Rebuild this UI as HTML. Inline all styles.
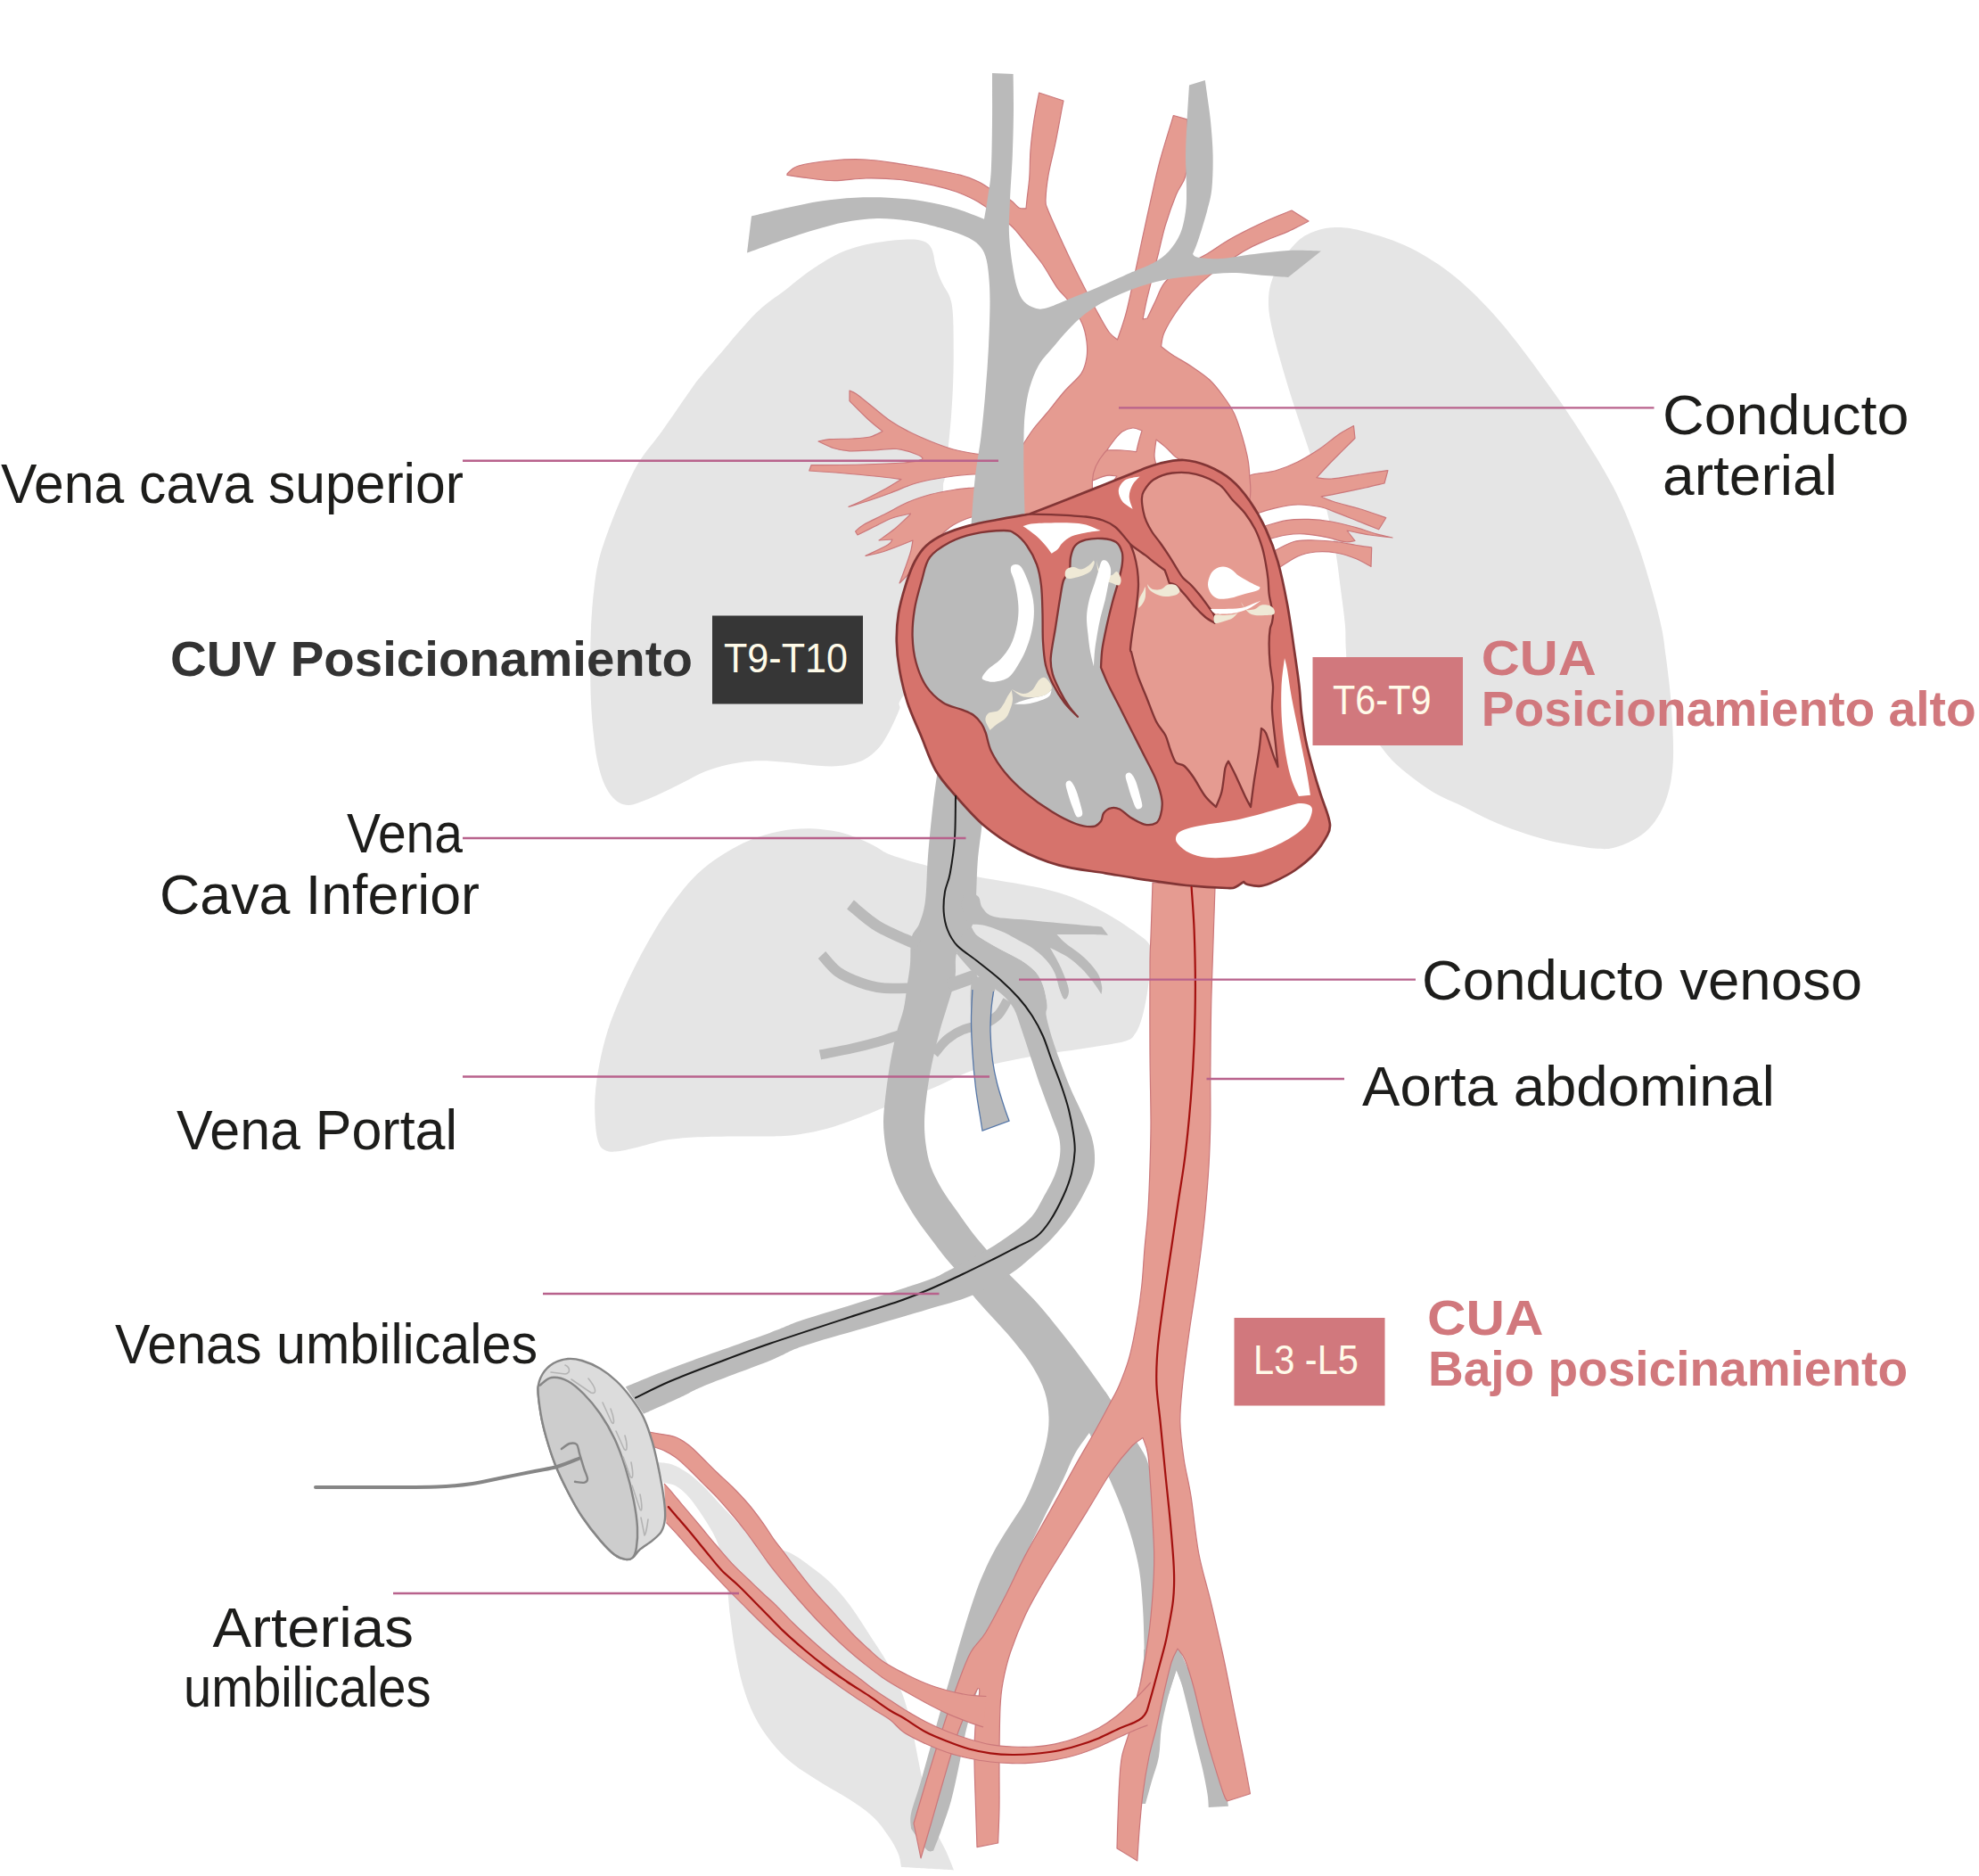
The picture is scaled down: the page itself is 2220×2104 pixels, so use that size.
<!DOCTYPE html>
<html>
<head>
<meta charset="utf-8">
<title>Circulacion fetal - cateteres umbilicales</title>
<style>
html,body{margin:0;padding:0;background:#ffffff;}
body{width:2220px;height:2104px;overflow:hidden;font-family:"Liberation Sans",sans-serif;}
svg{display:block;position:absolute;left:0;top:0;}
text{font-family:"Liberation Sans",sans-serif;}
.lbl{font-size:63px;fill:#1d1d1b;}
.bold{font-size:56px;font-weight:bold;}
.boxt{font-size:47px;fill:#fffbe9;}
.lead{stroke:#b8628c;stroke-width:2.4;fill:none;}
</style>
</head>
<body>
<svg xmlns="http://www.w3.org/2000/svg" width="2220" height="2104" viewBox="0 0 2220 2104">
<g id="organs" fill="#e5e5e5">
<!-- left lung --><path d="M1022.8,268.6C1026.6,268.7 1029.1,268.9 1032,269.6C1034.9,270.3 1037.9,271.3 1040,272.7C1042.1,274.1 1043.4,275.7 1044.6,278C1045.8,280.3 1046.7,283.5 1047.4,286.4C1048.1,289.3 1048.1,291.9 1049,295.5C1049.9,299.1 1051.2,303.9 1052.8,308C1054.3,312.1 1056.5,316.5 1058.3,320C1060.1,323.5 1062.3,326.3 1063.7,329C1065.1,331.7 1065.7,333.6 1066.5,336.4C1067.3,339.1 1067.8,340.6 1068.3,345.5C1068.8,350.4 1069.3,354.1 1069.5,366C1069.7,377.9 1069.9,400.2 1069.5,417C1069.1,433.8 1068.5,448.1 1067,467C1065.5,485.9 1062.2,517 1060.7,530.5C1059.2,544 1058.3,536.4 1058,548C1057.7,559.6 1055.3,574.7 1059,600C1062.7,625.3 1087.3,670.3 1080,700C1072.7,729.7 1026.8,762.1 1015,778C1003.2,793.9 1011.7,788.9 1009,795.6C1006.3,802.3 1002.6,810.9 998.8,818C995,825.1 991.1,832.8 986,838.5C980.9,844.2 975.6,849 968.4,852.4C961.2,855.8 951.4,857.7 943,858.8C934.6,859.9 926.4,859.3 918,858.8C909.6,858.3 901.1,856.9 892.6,856C884.1,855.1 875.4,854.1 867,853.7C858.6,853.3 850.4,853.1 842,853.7C833.6,854.3 825.3,855.6 816.9,857.5C808.5,859.4 800.1,861.6 791.6,865C783.1,868.4 774.4,873.5 766,877.7C757.6,881.9 749.4,886.2 741,890C732.6,893.8 721.8,898.4 715.8,900.5C709.8,902.6 708.3,902.9 704.8,902.9C701.3,902.9 697.9,902.1 694.6,900.3C691.3,898.4 688.2,895.8 685.2,891.8C682.2,887.8 679.2,883 676.7,876.5C674.2,870 671.8,861.7 669.9,852.6C668,843.5 666.8,832.6 665.6,821.8C664.5,811 663.6,800.5 663,787.7C662.4,774.9 662.2,759.2 662.2,745C662.2,730.8 662.3,716.6 663,702.4C663.7,688.2 664.9,672.5 666.5,659.7C668.1,646.9 669.4,637.2 672.4,625.6C675.4,614 679.8,602.2 684.3,590C688.8,577.8 694.3,564.4 699.7,552.4C705.1,540.4 709.7,529.4 716.8,518C723.9,506.6 732.3,497.9 742.3,484C752.2,470.1 768.9,445.5 776.5,434.8C784.1,424.1 782.1,427.1 788,420C793.9,412.9 804.5,400.8 812,392C819.5,383.2 826.2,374.8 833.3,367C840.4,359.2 846.8,351.8 854.6,345C862.4,338.2 872.4,331.8 880,326C887.6,320.2 893.6,314.8 900,310C906.4,305.2 912.1,301.2 918.2,297.3C924.3,293.4 930.3,289.4 936.4,286.4C942.5,283.3 948.5,281.1 954.6,279C960.7,276.9 966.7,275.4 972.8,274C978.9,272.6 985,271.7 991,270.9C997,270.1 1003.7,269.4 1009,269C1014.3,268.6 1019,268.5 1022.8,268.6Z"/>
<!-- right lung --><path d="M1501,255C1491.7,254.8 1483.5,256.4 1476,259C1468.5,261.6 1462.5,264.3 1455.8,270.4C1449.1,276.5 1440.6,287.7 1435.6,295.7C1430.5,303.7 1427.6,311.2 1425.5,318.4C1423.4,325.5 1423,331.4 1423,338.6C1423,345.8 1423.4,350.9 1425.5,361.4C1427.6,371.9 1431.4,386.7 1435.6,401.8C1439.8,416.9 1445.6,436 1450.7,452C1455.8,468 1461,482.6 1466,497.8C1471,513 1476.8,528.7 1481,543C1485.2,557.3 1488,570.6 1491,583.7C1494,596.8 1496.6,609 1498.7,621.6C1500.8,634.2 1502.1,646.3 1503.8,659.5C1505.5,672.7 1507.9,689.1 1508.9,701C1509.9,712.9 1509,716.2 1510,731C1511,745.8 1508.7,772.5 1515,790C1521.3,807.5 1538.9,824.3 1548,836C1557.1,847.7 1559.7,851.3 1569.5,860C1579.3,868.7 1595.2,880.7 1607,888C1618.8,895.3 1629.2,898.6 1640,903.9C1650.8,909.2 1661.3,915.1 1672,919.9C1682.7,924.7 1693.3,928.9 1704,932.6C1714.7,936.3 1725.2,939.5 1735.9,942.2C1746.6,944.9 1758.6,947 1767.9,948.6C1777.2,950.2 1785,951.4 1791.9,951.8C1798.8,952.2 1802.8,952.6 1809.5,951C1816.2,949.4 1825.2,945.8 1831.9,942.2C1838.6,938.6 1844.4,934.5 1849.5,929.4C1854.6,924.3 1858.8,918 1862.3,911.9C1865.8,905.8 1868.2,899.4 1870.3,892.7C1872.4,886 1873.9,879.4 1875,871.9C1876.1,864.4 1876.8,857.3 1877,848C1877.2,838.7 1876.9,828 1876.3,816C1875.7,804 1874.8,789.3 1873.5,776C1872.2,762.7 1870.3,748 1868.7,736C1867.1,724 1866.6,716.8 1863.9,704C1861.2,691.2 1857.3,676.2 1852.5,659.5C1847.7,642.8 1842,623 1834.8,604C1827.6,585 1820,566 1809.5,545.8C1799,525.6 1784.2,502.4 1771.6,482.6C1759,462.8 1748.5,447.3 1733.7,427C1718.9,406.7 1699.8,380.4 1683,361C1666.2,341.6 1649.4,324.6 1632.6,310.8C1615.8,297 1598.8,286.5 1582,278C1565.2,269.5 1545.1,263.8 1531.6,260C1518.1,256.2 1510.3,255.2 1501,255Z"/>
<!-- liver --><path d="M905.8,929.2C895.1,929.2 884.4,930.3 873.8,932.4C863.1,934.5 852.5,937.6 841.9,942C831.2,946.4 819.8,952.6 809.9,959C800,965.4 791.1,971.8 782.2,980.3C773.3,988.8 764.4,999.9 756.6,1010.2C748.8,1020.5 742.4,1030.3 735.3,1042C728.2,1053.7 720.4,1068 714,1080.5C707.6,1093 702.2,1104.4 696.9,1116.8C691.6,1129.2 686.1,1142.2 682,1155C677.9,1167.8 674.8,1181 672.4,1193.5C670,1206 668.2,1218.4 667.5,1229.8C666.8,1241.2 667.4,1253.2 668,1261.7C668.6,1270.2 669.7,1276.3 671.3,1280.9C672.9,1285.5 674.5,1287.6 677.7,1289.4C680.9,1291.2 684.5,1292 690.5,1291.6C696.5,1291.2 704.8,1289.1 714,1287C723.2,1284.9 735.2,1280.7 745.9,1278.8C756.5,1276.9 765.5,1276.3 777.9,1275.6C790.3,1274.9 806.3,1274.7 820.5,1274.5C834.7,1274.3 850.6,1274.8 863,1274.5C875.4,1274.2 884.3,1273.8 895,1272.4C905.7,1271 916.3,1268.8 927,1266C937.7,1263.2 948.3,1259.2 959,1255.3C969.7,1251.4 976.1,1248.5 991,1242.5C1005.9,1236.5 1034.9,1225.2 1048.5,1219.5C1062.1,1213.8 1064.7,1211.5 1072.8,1208C1080.9,1204.5 1087.6,1201.4 1097,1198.4C1106.4,1195.5 1118.6,1192.7 1129.4,1190.3C1140.2,1187.9 1150.9,1185.8 1161.7,1183.9C1172.5,1182 1183.2,1180.6 1194,1179C1204.8,1177.4 1215.1,1176.1 1226.4,1174.2C1237.7,1172.3 1254.2,1170.1 1262,1167.7C1269.8,1165.3 1270.1,1164.2 1273.3,1159.6C1276.5,1155 1279,1148.8 1281.4,1140.2C1283.8,1131.6 1286.2,1118.7 1287.8,1107.9C1289.4,1097.1 1290.7,1083.6 1291,1075.5C1291.3,1067.4 1292.2,1064.2 1289.5,1059.4C1286.8,1054.6 1282.7,1052.1 1274.9,1046.4C1267.1,1040.7 1254.8,1032.1 1242.6,1025.4C1230.4,1018.7 1215.5,1011.1 1202,1006C1188.5,1000.9 1179.2,998.5 1161.7,994.7C1144.2,990.9 1116.8,987.2 1097,983.4C1077.2,979.6 1059.2,975.8 1043,971.7C1026.8,967.6 1010.4,962.9 1000,959C989.6,955.1 987.2,951.8 980.4,948.4C973.6,945 966.1,941.5 959,938.8C951.9,936.1 946.7,934 937.8,932.4C928.9,930.8 916.5,929.2 905.8,929.2Z"/>
<!-- bladder --><path d="M738,1640C740.7,1640.4 748.2,1640.4 754,1642.5C759.8,1644.6 766.9,1648.7 772.7,1652.7C778.5,1656.8 783.5,1661.6 788.9,1666.8C794.3,1672 799.5,1678.1 805,1684C810.5,1689.9 816.2,1696 822,1702C827.8,1708 834,1715 840,1720C846,1725 852.7,1729.2 858,1732C863.3,1734.8 866.8,1735.2 872,1737C877.2,1738.8 882.5,1739.5 889,1743C895.5,1746.5 903.6,1752.6 910.8,1758C918,1763.4 924.8,1768.2 932,1775.4C939.2,1782.6 946.7,1791.3 953.9,1801C961.1,1810.7 968.6,1823 975.4,1833.5C982.2,1844 989,1853.6 994.8,1863.7C1000.5,1873.8 1005.9,1884.6 1009.9,1893.9C1013.9,1903.2 1016,1910.7 1018.5,1919.7C1021,1928.7 1022.5,1935.9 1025,1947.7C1027.5,1959.5 1030.8,1977.9 1033.6,1990.8C1036.4,2003.7 1039.1,2014.3 1042,2025C1044.9,2035.7 1047.5,2046.3 1050.8,2055C1054.1,2063.7 1058.4,2069.9 1061.6,2077C1064.8,2084.1 1068.6,2094 1070,2097.4C1063.2,2097 1038.8,2095.6 1029,2095C1019.2,2094.4 1014,2094.2 1011,2094C1010.5,2091.5 1010,2084.7 1007.7,2079C1005.4,2073.3 1001.7,2066.5 997,2059.7C992.3,2052.9 986.9,2044.8 979.7,2038C972.5,2031.2 963.6,2025.2 953.9,2018.8C944.2,2012.4 932.3,2006.2 921.5,1999.4C910.7,1992.6 898.3,1985.4 889,1977.8C879.7,1970.2 872.7,1963 865.5,1954C858.3,1945 851.4,1934.8 846,1924C840.6,1913.2 836.6,1901.7 833,1889.5C829.4,1877.3 826.9,1863.7 824.6,1850.8C822.3,1837.9 820.4,1822.8 819,1812C817.6,1801.2 817.6,1795.7 816.4,1786C815.2,1776.3 813.9,1763.8 811.7,1753.8C809.5,1743.8 807,1734.8 803,1725.8C799,1716.8 793,1707.8 788,1700C783,1692.2 777.6,1684.5 772.7,1679C767.8,1673.5 763.3,1669.5 758.5,1666.8C753.7,1664.1 746.4,1663.5 744,1662.8L738,1640Z"/>
</g>
<g fill="#e59b91" stroke="#cb787b" stroke-width="1.2" stroke-linejoin="round">
<!-- left pulmonary fan --><path d="M953,438C954.3,438.7 956.6,439 960.9,442C965.1,445 972.2,451 978.5,456C984.8,461 992,467.4 998.8,472C1005.5,476.6 1011.5,480 1019,483.8C1026.5,487.6 1035.6,491.6 1044,495C1052.4,498.4 1061,501.7 1069.5,504C1078,506.3 1086.4,507.7 1094.8,509C1103.2,510.3 1115.8,511.5 1120,512L1120,532C1115.3,532 1100.4,531.7 1092,532C1083.6,532.3 1077.5,533 1069.5,534C1061.5,535 1051.6,536.5 1044,538C1036.4,539.5 1031.5,540.5 1024,543C1016.5,545.5 1006.8,550 998.8,553C990.8,556 983.8,558.4 976,561C968.2,563.6 956,567.2 952,568.4C954.8,567.2 961.5,564.4 968.5,561C975.5,557.6 986.6,551.9 993.7,548C1000.8,544.1 1008.1,539.2 1011,537.5C1006,536.9 992.3,535.2 981,534C969.7,532.8 955.2,531.5 943,530.5C930.8,529.5 913.7,528.4 907.8,528L910,521.7C919.8,521.6 951.2,521.5 968.5,521C985.8,520.5 1003.9,519.7 1014,519C1024.1,518.3 1026.5,517.3 1029,517C1030,516.5 1035.4,515.3 1035,514C1034.6,512.7 1031.4,510.8 1026.6,509C1021.8,507.2 1013.6,504.2 1006,503.5C998.4,502.8 989.8,504.4 981,504.8C972.2,505.2 960.6,506.1 953,505.8C945.4,505.5 941.4,504.6 935.6,502.8C929.8,501 920.9,496.3 918,495C920.1,494.6 924.2,493.1 930.5,492.6C936.8,492.1 948.2,492.4 955.8,492C963.4,491.6 970.3,491.4 976,490C981.7,488.6 987.7,484.8 990,483.8C987.2,481.5 979.7,475.7 973.5,470C967.3,464.3 956.4,453.1 953,449.7L953,438Z"/>
<!-- left pulmonary fan 2 --><path d="M1120,545C1115.3,545.3 1100.4,546.2 1092,547C1083.6,547.8 1077.5,548.2 1069.5,549.5C1061.5,550.8 1052.4,552.2 1044,554.5C1035.6,556.8 1027.4,559.4 1019,563C1010.6,566.6 1002.1,571.7 993.7,576C985.3,580.3 974.2,585.4 968.5,588.7C962.8,592 961.1,594.8 959.6,596L962,600C965.2,598.4 974.5,593.7 981,590.5C987.5,587.3 994.2,583.4 1001,581C1007.8,578.6 1018.1,576.8 1021.5,576C1021.1,576.5 1022,576.2 1019,579C1016,581.8 1009.3,588.5 1003.8,593C998.3,597.5 989,603.8 986,606L1001,605C1000.2,606 1001,607.9 996,611C991,614.1 975.2,621.3 971,623.4C974.8,622.5 984.9,620.6 993.7,617.7C1002.5,614.8 1019,608 1024,606C1023.6,608.2 1022.8,614.3 1021.5,619C1020.2,623.7 1018.2,629 1016.5,634C1014.8,639 1012.2,645.7 1011,649C1009.8,652.3 1009.3,653.2 1009,654C1010.7,652.3 1015.7,648.2 1019,644C1022.3,639.8 1025.5,633.8 1029,629C1032.5,624.2 1035.3,620 1040,615C1044.7,610 1052.1,603.2 1057,598.8C1061.9,594.4 1064,591.8 1069.5,588.7C1075,585.6 1081.3,582.3 1089.7,580C1098.1,577.7 1115,575.8 1120,575L1120,545Z"/>
<!-- right pulmonary fan --><path d="M1395,545C1396.3,543 1396.8,535.8 1402.7,533C1408.6,530.2 1421.7,530.5 1430.5,528C1439.3,525.5 1447.4,522.2 1455.8,518C1464.2,513.8 1473.5,507.9 1481,502.9C1488.5,497.8 1494.8,491.9 1501,487.7C1507.2,483.5 1515.6,479.3 1518.5,477.6L1520,491.5C1517.7,493.8 1510.8,500.6 1506,505.4C1501.2,510.2 1495.8,515.5 1491,520.5C1486.2,525.5 1479.3,533.2 1477,535.7C1479.8,535.9 1485.5,537.6 1493.7,537C1502,536.4 1516,533.6 1526.5,532C1537,530.4 1551.8,528.3 1556.9,527.6L1553,542C1549.4,542.8 1540.3,545.1 1531.6,547C1522.9,548.9 1509.3,551.7 1501,553.4C1492.7,555.1 1485.2,556.4 1482,557C1484.8,558.1 1491.3,561.2 1498.7,563.5C1506.1,565.8 1517.2,568.1 1526.5,571C1535.8,573.9 1550.1,579.1 1554.8,580.7L1546.7,593.8C1542.5,592.1 1530,587.1 1521.5,583.7C1513,580.3 1502.8,576.1 1496,573.6C1489.2,571.1 1487.7,569.8 1481,568.5C1474.3,567.2 1464.2,565.8 1455.8,566C1447.4,566.2 1438.1,568.1 1430.5,569.8C1422.9,571.5 1415.1,574 1410,576C1404.9,578 1401.7,581 1400,582L1395,545Z"/>
<!-- r2 --><path d="M1412,592C1417.2,590.6 1433.7,585.3 1443,583.7C1452.3,582.1 1459.5,582.2 1468,582.4C1476.5,582.6 1485.2,583.6 1493.7,585C1502.2,586.4 1510.6,588.7 1519,591C1527.4,593.3 1536.8,596.8 1544,598.8C1551.2,600.8 1559,602.3 1562,603C1557.8,602.5 1545.1,601.3 1536.6,600C1528.1,598.7 1515.3,595.8 1511,595L1520,606.5C1518.2,606.7 1514.1,608.3 1508.9,607.7C1503.7,607.1 1496.2,604.2 1488.6,602.7C1480.9,601.2 1470.6,599.4 1463,598.9C1455.4,598.4 1450.5,598.8 1443,600C1435.5,601.2 1422.2,605 1418,606L1412,592Z"/>
<!-- r3 --><path d="M1422,622C1426.8,619.6 1441.7,610.4 1450.7,607.7C1459.7,605 1467.6,606 1476,606C1484.4,606 1493.4,607.1 1501,608C1508.6,608.9 1515.2,610.5 1521.5,611.5C1527.8,612.5 1535.8,613.6 1538.7,614L1538,635.5C1535.2,634 1528,629.3 1521.5,626.7C1515,624.1 1506.3,621.3 1498.7,620C1491.1,618.7 1483.2,618.3 1476,619C1468.8,619.7 1463.5,620.5 1455.8,624C1448.1,627.5 1434.3,637.3 1430,640L1422,622Z"/>
<!-- aortic arch --><path d="M883,195C885.1,193.5 887.3,188.5 895.8,186C904.2,183.5 921.1,181.2 933.7,180C946.3,178.8 959,178.4 971.6,179C984.2,179.6 996.9,182 1009.5,183.8C1022.1,185.6 1035.6,187.9 1047,190C1058.4,192.1 1069.2,194.1 1077.7,196.4C1086.2,198.7 1092.5,201.5 1098,204C1103.5,206.5 1104.7,208.3 1110.5,211.6C1116.3,214.9 1127.6,220.4 1133,224C1138.4,227.6 1140,231.4 1143,233C1146,234.6 1149.7,233.7 1151,233.8C1151.2,232.2 1151.4,229.8 1152,224C1152.6,218.2 1154.1,208.2 1154.8,199C1155.5,189.8 1155.2,179.1 1156,168.6C1156.8,158.1 1158.2,146.6 1159.8,135.8C1161.4,125 1164.6,109.3 1165.6,104L1193,113C1192.7,114.7 1192.5,115 1191,123C1189.5,131 1186.3,148.8 1183.8,161C1181.3,173.2 1177.8,185.9 1176,196.4C1174.2,206.9 1173.2,217.7 1173,224C1172.8,230.3 1173.2,228.9 1175,234C1176.8,239.1 1179.8,245.6 1183.8,254.5C1187.8,263.4 1194,276.9 1199,287.4C1204,297.9 1208.2,306.3 1214,317.7C1219.8,329.1 1228.9,346.4 1234,355.6C1239.1,364.8 1241.2,368.8 1244.5,373C1247.8,377.2 1252,379.7 1253.5,381C1255.2,375.9 1260.1,363.2 1263.4,350.5C1266.7,337.8 1270.6,318.5 1273.5,305C1276.4,291.5 1278.1,283.2 1281,269.7C1283.9,256.2 1287.7,238.8 1291,224C1294.3,209.2 1296.8,196.8 1301,181C1305.2,165.2 1313.8,138.1 1316.4,129.5L1331.6,133.8C1331.8,139 1333.3,154.4 1333,165C1332.7,175.6 1332.1,188.6 1329.8,197.5C1327.5,206.4 1323,209.4 1319.3,218.5C1315.6,227.6 1310.8,241.1 1307.5,252C1304.2,262.9 1302.2,273.1 1299.5,284C1296.8,294.9 1293.2,308.7 1291,317.7C1288.8,326.7 1287.5,331.3 1286,338C1284.5,344.7 1282.7,354.7 1282,358L1287,357C1288.5,353.8 1292.8,344.6 1296,338C1299.2,331.4 1301.2,324 1306,317.7C1310.8,311.4 1317.4,305.3 1325,300C1332.6,294.7 1342.3,291.5 1351.8,286C1361.3,280.5 1370.6,273.3 1382,267C1393.4,260.7 1408.8,253.2 1420,248C1431.2,242.8 1444.2,238 1449,236L1468,248C1464.2,249.9 1453,256 1445,259.6C1437,263.2 1428.4,266 1420,269.7C1411.6,273.4 1405.3,275.5 1394.8,282C1384.3,288.5 1366.6,301.3 1356.9,308.9C1347.2,316.5 1342.9,320.9 1336.6,327.8C1330.3,334.7 1324.1,343 1319,350.5C1313.9,358 1308.8,366.7 1306,373C1303.2,379.3 1303.1,385.9 1302.5,388.5C1304.8,390.2 1310.3,394.8 1316,398.5C1321.7,402.2 1329.8,406.4 1336.6,411C1343.4,415.6 1351,420.5 1356.9,426C1362.8,431.5 1367.4,437.7 1372,444C1376.6,450.3 1381,456.4 1384.6,464C1388.2,471.6 1391,481 1393.5,489.5C1396,498 1398.4,507.4 1399.8,514.8C1401.2,522.2 1401.4,526.5 1401.8,534C1402.2,541.5 1404,549 1402,560C1400,571 1392,593.3 1390,600L1140,600C1140,589 1139.7,549 1140,534C1140.3,519 1140.7,516 1142,510C1143.3,504 1147,500 1148,498C1149.8,495.3 1154.3,487.7 1158.6,482C1162.9,476.3 1167.8,471.2 1173.7,464C1179.6,456.8 1187.5,446.5 1194,439C1200.5,431.5 1208.8,425.1 1213,418.8C1217.2,412.5 1218,407 1219,401C1220,395 1219.8,389.3 1219,383C1218.2,376.7 1217.3,370.5 1214,363C1210.7,355.5 1203.7,344.7 1199,338C1194.3,331.3 1191.1,330 1186,322.8C1180.9,315.6 1174.8,303.9 1168.6,295C1162.3,286.1 1154.4,276.9 1148.5,269.7C1142.6,262.5 1140.2,258.3 1133,252C1125.8,245.7 1112.2,236.5 1105.5,231.8C1098.8,227.1 1098.5,226.8 1093,224C1087.5,221.2 1080.3,217.7 1072.6,215C1064.9,212.3 1057.5,210.1 1047,207.8C1036.5,205.6 1022.1,202.8 1009.5,201.5C996.9,200.2 983.9,199.8 971.6,200C959.4,200.2 946.6,202.7 936,202.7C925.4,202.7 916.8,201.1 908,200C899.2,198.9 887.2,197 883,196.4L883,195Z"/>
<path d="M1241.6,505 C1232,515 1226,527 1225.4,539" fill="none"/>
<path d="M1241.6,505C1242.9,503.1 1246.8,497.3 1249.7,493.8C1252.6,490.3 1255.5,486.3 1259,484C1262.5,481.7 1267,480.2 1270.7,480C1274.4,479.8 1279.3,482.5 1281,483C1280.3,485.3 1278,493.1 1277,497C1276,500.9 1275.1,505.1 1274.7,506.7C1272.1,506.4 1264.5,505.3 1259,505C1253.5,504.7 1244.5,505 1241.6,505Z" fill="#ffffff"/>
<path d="M1297,493C1298.8,494.5 1304.5,498.8 1307.9,501.9C1311.3,505 1315.1,509.3 1317.6,511.6C1320.1,513.9 1320.9,513.4 1323,515.6C1325.1,517.8 1328.8,523.4 1330,525L1298,525C1297.5,522.8 1295.2,516.9 1295,511.6C1294.8,506.3 1296.7,496.1 1297,493Z" fill="#ffffff"/>
<path d="M1225.4,539C1228.1,538.1 1237,534.2 1241.6,533.4C1246.2,532.6 1251,533.9 1252.9,534L1240,552L1225.4,548L1225.4,539Z" fill="#ffffff"/>
</g>
<g id="veins" fill="#bababa">
<!-- SVC / brachiocephalic --><path d="M1113,82L1136.6,83C1136.7,89.7 1137.1,107.9 1137,123C1136.9,138.1 1136.5,156.9 1135.8,173.7C1135.1,190.5 1133.6,209.3 1133,224C1132.4,238.7 1131.5,249.8 1132,262C1132.5,274.2 1134.3,287.4 1135.8,297.5C1137.3,307.6 1138.9,316.1 1141,322.8C1143.1,329.6 1145.2,334.2 1148.5,338C1151.8,341.8 1156.8,344.2 1161,345.5C1165.2,346.8 1167.4,347.2 1173.7,345.5C1180,343.8 1189.5,339.2 1199,335.4C1208.5,331.6 1219,327.7 1230.5,322.8C1242,317.9 1257.5,310.6 1268,306C1278.5,301.4 1286.5,299 1293.7,295C1300.9,291 1306,287.5 1311,282C1316,276.5 1320.8,269.5 1324,262C1327.2,254.5 1328.8,245.4 1330,237C1331.2,228.6 1331,222.2 1331,211.6C1331,201 1329.9,186.3 1330,173.7C1330.1,161.1 1330.9,148.9 1331.6,135.8C1332.3,122.8 1333.6,102.1 1334,95.4L1351.8,90C1352.2,92.6 1353,97.9 1354,105.5C1355,113.1 1356.9,124.4 1358,135.8C1359.1,147.2 1360.4,161.1 1360.6,173.7C1360.8,186.3 1360.5,201.1 1359.4,211.6C1358.3,222.1 1356.6,227.2 1354,236.9C1351.4,246.6 1346.7,261.7 1344,269.7C1341.3,277.7 1339,282.4 1338,285C1339,285.6 1338.8,287.9 1344,288.7C1349.2,289.5 1359,290.6 1369.5,290C1380,289.4 1394.4,286.5 1407,285C1419.6,283.5 1432.5,281.6 1445,281C1457.5,280.4 1475.8,281.5 1482,281.6L1445,311C1440.8,310.7 1430.5,309.8 1420,309C1409.5,308.2 1394.7,306 1382,306C1369.3,306 1356.7,307.7 1344,309C1331.3,310.3 1318.6,311.3 1306,314C1293.4,316.7 1281,320.2 1268.4,325C1255.8,329.8 1241.1,336.7 1230.5,343C1219.9,349.3 1213.4,355 1205,363C1196.6,371 1186.7,383.2 1180,391C1173.3,398.8 1169.2,402.7 1165,410C1160.8,417.3 1157.5,426.3 1155,435C1152.5,443.7 1151.1,452.9 1150,462C1148.9,471.1 1148.8,477.5 1148.5,489.5C1148.2,501.5 1148.2,515.6 1148.5,534C1148.8,552.4 1149.8,579 1150,600C1150.2,621 1150,650 1150,660L1085,660C1085.8,647.7 1088.2,607 1089.7,586C1091.2,565 1092.2,550.1 1094,534C1095.8,517.9 1098.6,505.3 1100.5,489.5C1102.4,473.7 1104.1,455.8 1105.5,439C1106.9,422.2 1108.2,405.3 1109,388.5C1109.8,371.7 1110.5,351.5 1110.5,338C1110.5,324.5 1109.8,316 1109,307.6C1108.2,299.2 1107.3,292.9 1105.5,287.4C1103.7,281.9 1101.4,278.4 1098,274.8C1094.6,271.2 1091.3,269 1085,266C1078.7,263 1070.5,260 1060,257C1049.5,254 1034.7,250 1022,248C1009.3,246 996.7,244.8 984,245C971.3,245.2 958.7,247.1 946,249.5C933.3,251.9 920.6,255.9 908,259.6C895.4,263.4 882.2,268 870.5,272C858.8,276 843.4,281.7 838,283.6L843,242.4C849.7,240.8 870,235.8 883,233C896,230.2 908.3,227.4 921,225.5C933.7,223.6 946.4,222.3 959,221.7C971.6,221.1 984.3,221.1 996.9,221.7C1009.5,222.3 1022.2,223.4 1034.8,225.5C1047.4,227.6 1061.1,230.6 1072.6,234C1084.1,237.4 1098.8,243.8 1104,245.7C1104.7,241.7 1106.7,230.8 1108,221.7C1109.3,212.6 1111,205.7 1111.8,191.4C1112.6,177.1 1112.8,154 1113,135.8C1113.2,117.6 1113,91 1113,82Z"/>
<!-- IVC / right iliac --><path d="M1054,850C1052.8,858.3 1049.2,881.7 1047,900C1044.8,918.3 1042.5,941.7 1041,960C1039.5,978.3 1039.6,997.4 1038,1010C1036.4,1022.6 1034,1028.6 1031.4,1035.6C1028.8,1042.6 1024.2,1044.4 1022.5,1052C1020.8,1059.6 1021.8,1072 1021,1081C1020.2,1090 1018.7,1097.6 1017.5,1106C1016.3,1114.4 1015.6,1123.1 1013.7,1131.6C1011.8,1140.1 1008.1,1148.9 1006,1156.9C1003.9,1164.9 1002.5,1172.1 1001,1179.6C999.5,1187.1 998.3,1193.2 997,1202C995.7,1210.8 994,1223.3 993,1232.6C992,1241.9 991,1249.6 991,1258C991,1266.4 991.8,1274.7 993,1283C994.2,1291.3 995.9,1299.5 998.5,1308C1001.1,1316.5 1004,1324.4 1008.6,1333.7C1013.2,1343 1020.1,1354.8 1026,1364C1031.9,1373.2 1038,1381 1044,1389C1050,1397 1056.2,1405.2 1061.7,1412C1067.2,1418.8 1072.1,1423.2 1076.8,1429.7C1081.5,1436.2 1084.3,1443.5 1090,1451C1095.7,1458.5 1103.3,1466.4 1111,1475C1118.7,1483.6 1128.1,1493.1 1136,1502.8C1143.9,1512.5 1152.5,1523.3 1158.5,1533C1164.5,1542.7 1169,1551.7 1172,1561C1175,1570.3 1176.2,1579.7 1176.5,1589C1176.8,1598.3 1175.9,1606.6 1173.8,1616.8C1171.7,1627 1168,1638.9 1164,1650C1160,1661.1 1155.5,1672.8 1150,1683.5C1144.5,1694.2 1136.7,1704.3 1130.7,1714C1124.7,1723.7 1119.1,1732.2 1114,1741.9C1108.9,1751.6 1104.2,1761.8 1100,1772C1095.8,1782.2 1092.7,1791.8 1089,1803C1085.3,1814.2 1081.6,1826.5 1077.9,1839C1074.2,1851.5 1071.5,1861.7 1066.8,1878C1062.1,1894.3 1055.6,1916.8 1050,1936.8C1044.4,1956.8 1037.7,1981.8 1033,1998C1028.3,2014.2 1023.8,2025.2 1022,2034C1020.2,2042.8 1022,2047.9 1022,2050.7C1024.8,2054.6 1034.8,2069.8 1039,2074C1043.2,2078.2 1045.7,2075.5 1047,2075.8C1048.4,2072.1 1052.3,2062.8 1055.6,2053.5C1058.9,2044.2 1063.6,2031.6 1066.8,2020C1070,2008.4 1072.2,1997 1075,1984C1077.8,1971 1080.1,1956 1083.4,1942C1086.7,1928 1090.6,1915.3 1095,1900C1099.4,1884.7 1105,1866.7 1110,1850C1115,1833.3 1120.7,1812.5 1125,1800C1129.3,1787.5 1132.7,1781.9 1136,1775C1139.3,1768.1 1141.3,1765.4 1144.6,1758.5C1147.9,1751.6 1151.1,1743.2 1155.7,1733.5C1160.3,1723.8 1166,1712.1 1172,1700C1178,1687.9 1186.2,1672.5 1191.8,1661C1197.4,1649.5 1200.7,1639.7 1205.7,1630.7C1210.7,1621.7 1219.3,1611 1222,1607L1260,1640L1275,1616.8C1271.2,1610.7 1257.8,1589.3 1252,1580C1246.2,1570.7 1246,1569.8 1240,1561C1234,1552.2 1224.3,1538.8 1216,1527.5C1207.7,1516.2 1198.7,1504.4 1190,1493.5C1181.3,1482.6 1173.2,1472.2 1164,1462C1154.8,1451.8 1142.2,1439.3 1134.9,1432C1127.6,1424.7 1124.7,1423 1120,1418C1115.3,1413 1111.7,1407.7 1107,1402C1102.3,1396.3 1097.5,1391.2 1092,1384C1086.5,1376.8 1079.9,1367.4 1074,1359C1068.1,1350.6 1061.6,1342.2 1056.6,1333.7C1051.6,1325.2 1047,1316.5 1044,1308C1041,1299.5 1039.7,1291.3 1038.5,1283C1037.3,1274.7 1036.9,1266.4 1037,1258C1037.1,1249.6 1038,1241.1 1039,1232.6C1040,1224.1 1041.2,1215.4 1042.7,1207C1044.2,1198.6 1045.9,1190.3 1047.8,1182C1049.7,1173.7 1051.7,1165.3 1054,1156.9C1056.3,1148.5 1059.4,1139.2 1061.7,1131.6C1064,1123.9 1066.3,1117.3 1068,1111C1069.7,1104.7 1071,1100.6 1071.8,1093.7C1072.6,1086.8 1070.8,1077 1073,1069.7C1075.2,1062.4 1081.5,1057 1085,1050C1088.5,1043 1092.3,1035.2 1094,1028C1095.7,1020.8 1094.5,1016.9 1095,1006.7C1095.5,996.5 1095.7,979.5 1096.7,966.7C1097.7,953.9 1099.8,940.3 1101,930C1102.2,919.7 1103.5,913.3 1104,905C1104.5,896.7 1104,884.2 1104,880L1054,850Z"/>
<path d="M1082,1000C1084.5,1000.8 1093.7,1002 1097,1005C1100.3,1008 1099,1014.2 1102,1018C1105,1021.8 1106.4,1025.7 1114.8,1028C1123.2,1030.3 1140,1030.5 1152.6,1031.8C1165.2,1033.1 1176.6,1034.3 1190.5,1035.6C1204.4,1036.9 1228.4,1038.8 1236,1039.4L1243,1048.7C1238.5,1048.6 1225.4,1048.1 1215.8,1048C1206.2,1047.9 1190.5,1048 1185.5,1048C1187.2,1049.7 1190.5,1053.8 1195.6,1058C1200.6,1062.2 1209.9,1068 1215.8,1073.5C1221.7,1079 1227.6,1085.6 1231,1091C1234.4,1096.4 1235.2,1102 1236,1106C1236.8,1110 1235.6,1113.5 1235.5,1115C1233.9,1112.7 1229.8,1105.8 1226,1101C1222.2,1096.2 1217.7,1090.6 1213,1086C1208.3,1081.4 1203.8,1077.3 1198,1073.5C1192.2,1069.7 1181.3,1064.8 1178,1063C1179.7,1066 1185.1,1075 1188,1081C1190.9,1087 1193.8,1093.7 1195.6,1098.7C1197.4,1103.7 1198.8,1107.6 1199,1111C1199.2,1114.4 1197.9,1117.5 1196.9,1119C1195.9,1120.5 1194.3,1121.3 1193,1120C1191.7,1118.7 1190.7,1115.8 1189,1111C1187.3,1106.2 1185.7,1096.8 1183,1091C1180.3,1085.2 1177.1,1080.7 1172.9,1076C1168.7,1071.3 1162.8,1066.6 1157.7,1063C1152.6,1059.4 1147.6,1057.3 1142.5,1054.5C1137.4,1051.7 1132.4,1048.5 1127,1046C1121.6,1043.5 1114.8,1041 1110,1039.5C1105.2,1038 1102,1037.4 1098,1037C1094,1036.6 1088,1037 1086,1037L1078,1015L1082,1000Z"/>
<path d="M1090,1040C1091.2,1041.6 1091.8,1045.7 1097,1049.7C1102.2,1053.7 1113.2,1059.7 1121.3,1064.2C1129.4,1068.8 1138.8,1072.7 1145.5,1077C1152.2,1081.3 1157.7,1085.4 1161.7,1090C1165.8,1094.6 1167.8,1099.5 1169.8,1104.6C1171.8,1109.7 1173,1116.6 1173.8,1120.8C1174.6,1125 1174.5,1127.1 1174.5,1130C1174.5,1132.9 1172.9,1133.5 1173.5,1138C1174.1,1142.5 1175.6,1148.7 1178,1156.9C1180.4,1165.1 1184.2,1176.5 1188,1187C1191.8,1197.5 1196,1209 1200.6,1220C1205.2,1231 1211.8,1243.6 1215.8,1252.9C1219.8,1262.2 1222.7,1268.4 1224.7,1275.6C1226.7,1282.8 1227.8,1289.1 1228,1295.8C1228.2,1302.5 1228,1308.8 1226,1316C1224,1323.2 1220,1330.8 1215.8,1338.8C1211.6,1346.8 1206.6,1355.6 1200.6,1364C1194.6,1372.4 1187.2,1381.4 1180,1389C1172.8,1396.6 1165.7,1402.7 1157.7,1409.5C1149.7,1416.3 1143.3,1422.5 1132,1429.7C1120.7,1437 1105.5,1446.5 1090,1453C1074.5,1459.5 1059.1,1462.9 1039,1469C1018.9,1475.1 992.7,1482.7 969.5,1489.5C946.3,1496.3 917.6,1503.9 900,1510C882.4,1516.1 881.6,1518.8 863.8,1526C845.9,1533.2 809.8,1546.1 792.9,1553C776,1559.9 774.3,1562.1 762.5,1567.6C750.7,1573.1 728.8,1582.8 722,1585.8L701.8,1555.4C711.9,1551.3 735.5,1541.1 762.5,1531C789.5,1520.9 840.9,1503.1 863.8,1494.7C886.7,1486.3 884,1486 900,1480.6C916,1475.1 936.7,1469.4 960,1462C983.3,1454.6 1022.7,1442.2 1040,1436C1057.3,1429.8 1052.8,1430.7 1064,1425C1075.2,1419.3 1094.8,1409.2 1107,1402C1119.2,1394.8 1129,1388 1137.5,1381.7C1146,1375.4 1152.3,1370.3 1157.7,1364C1163.1,1357.7 1165.8,1351.4 1170,1343.8C1174.2,1336.2 1179.8,1326.5 1183,1318.5C1186.2,1310.5 1188.2,1303 1189,1295.8C1189.8,1288.6 1189.5,1282.8 1188,1275.6C1186.5,1268.4 1183.4,1262.2 1180,1252.9C1176.6,1243.6 1172,1231.8 1167.8,1220C1163.6,1208.2 1158.8,1193.4 1155,1182C1151.2,1170.6 1147.9,1160.2 1145,1151.8C1142.1,1143.4 1140.5,1137.2 1137.5,1131.6C1134.5,1126 1131.2,1122.3 1127,1118C1122.8,1113.7 1118.5,1111.2 1112,1106C1105.5,1100.8 1094.5,1093 1088,1087C1081.5,1081 1075.5,1072.6 1073,1069.7L1080,1045L1090,1040Z"/>
<path d="M1240,1561C1245.8,1570.3 1266.8,1602.9 1275,1616.8C1283.2,1630.7 1284.8,1630.7 1289,1644.6C1293.2,1658.5 1296.2,1680.8 1300,1700C1303.8,1719.2 1308.7,1740 1312,1760C1315.3,1780 1318.5,1803.3 1320,1820C1321.5,1836.7 1320.8,1853.3 1321,1860L1283.5,1880C1283.5,1874.1 1283.8,1857.5 1283.5,1844.7C1283.2,1831.9 1282.9,1817 1282,1803C1281.1,1789 1280.1,1774 1278,1761C1275.9,1748 1272.8,1736.5 1269.6,1725C1266.3,1713.5 1262.7,1702.9 1258.5,1691.8C1254.3,1680.7 1250.7,1672.6 1244.6,1658.5C1238.5,1644.4 1225.8,1615.6 1222,1607L1240,1561Z"/><path d="M1283,1860L1319.7,1872.9C1318.2,1877.5 1313.8,1890.1 1311,1900.7C1308.2,1911.3 1304.8,1925.2 1303,1936.8C1301.2,1948.3 1301.8,1959.8 1300,1970C1298.2,1980.2 1294.4,1989.2 1291.9,1998C1289.4,2006.8 1286.2,2018.8 1285,2023L1268,2023C1268.3,2010.8 1267.5,1977.2 1270,1950C1272.5,1922.8 1280.8,1875 1283,1860Z"/><path d="M1319.7,1872.9C1320.6,1875.2 1322.7,1879 1325,1886.8C1327.3,1894.6 1330.7,1908.5 1333.5,1920C1336.3,1931.5 1339.4,1945.3 1342,1956C1344.6,1966.7 1346.9,1974.7 1349,1984C1351.1,1993.3 1353.4,2004.8 1354.5,2012C1355.6,2019.2 1355.6,2024.5 1355.8,2027L1378,2025.7C1377,2019.8 1375.8,2006 1372,1990C1368.2,1974 1360.3,1950 1355,1930C1349.7,1910 1342.5,1880 1340,1870L1319.7,1872.9Z"/><path d="M1283,1850L1321,1845L1345,1900L1330,1900L1319.7,1872.9L1311,1900L1283,1900Z"/>
<g fill="none" stroke="#bababa" stroke-linecap="butt">
<path stroke-width="12.5" d="M954,1014.5C959.2,1018.6 972.3,1031.4 985,1039C997.7,1046.6 1022.5,1056.5 1030,1060"/>
<path stroke-width="11.5" d="M922,1071C925,1074.2 932.8,1084.8 940,1090C947.2,1095.2 956.7,1099 965,1102C973.3,1105 980,1107 990,1108C1000,1109 1019.2,1108 1025,1108"/>
<path stroke-width="11" d="M920,1183C925.8,1181.8 944.2,1178.4 955,1176C965.8,1173.6 976.2,1171 985,1168.5C993.8,1166 1004.2,1162.2 1008,1161"/>
<path stroke-width="15" d="M1064,1105.5C1066.3,1104.7 1072.7,1102.4 1078,1100.5C1083.3,1098.6 1093,1095.1 1096,1094"/>
<path stroke-width="10.5" d="M1048,1182C1050.3,1179.3 1056.7,1170.5 1062,1166C1067.3,1161.5 1072.8,1158 1080,1155C1087.2,1152 1098.3,1150.8 1105,1148C1111.7,1145.2 1115.8,1142.3 1120,1138C1124.2,1133.7 1128.3,1124.7 1130,1122"/>
</g>
<path d="M1194,1121.6L1175.5,1132C1175.2,1130.1 1174.8,1125.4 1173.8,1120.8C1172.8,1116.2 1171.8,1109.7 1169.8,1104.6C1167.8,1099.5 1165.8,1094.6 1161.7,1090C1157.7,1085.4 1152.2,1081.3 1145.5,1077C1138.8,1072.7 1129.4,1068.8 1121.3,1064.2C1113.2,1059.7 1101.5,1053 1097,1049.7C1092.5,1046.4 1094.8,1046 1094.6,1044.5C1094.4,1043 1095,1041.8 1096,1041C1097,1040.2 1098.6,1040 1100.3,1040C1102,1040 1103.8,1040.3 1106,1040.8C1108.2,1041.3 1109.3,1041.2 1113.2,1043.2C1117.1,1045.2 1124,1049.7 1129.4,1052.9C1134.8,1056.1 1140.1,1058.8 1145.5,1062.6C1150.9,1066.4 1156.9,1071.2 1161.7,1075.5C1166.5,1079.8 1170.5,1083.7 1174.6,1088.5C1178.6,1093.3 1183.3,1100 1186,1104.6C1188.7,1109.2 1189.5,1113.2 1190.8,1116C1192.1,1118.8 1193.5,1120.7 1194,1121.6Z" fill="#e5e5e5"/>
<path d="M1073,1069.7L1088,1087L1071.8,1093.7Z" fill="#e5e5e5"/>
<!-- portal vein --><path d="M1102,1268L1132,1257C1131,1254.2 1128.2,1247 1126,1240C1123.8,1233 1120.6,1223.4 1118.5,1215C1116.4,1206.6 1114.8,1199.4 1113.5,1189.7C1112.2,1180 1111.2,1166.6 1111,1156.9C1110.8,1147.2 1111.4,1141.1 1112,1131.6C1112.6,1122.1 1118.3,1105.3 1114.8,1100C1111.3,1094.7 1095.2,1092.7 1091,1100C1086.8,1107.3 1089.5,1130.3 1089.5,1144C1089.5,1157.7 1090.2,1169.3 1091,1182C1091.8,1194.7 1093.1,1208.2 1094.5,1220C1095.9,1231.8 1098.3,1244.9 1099.6,1252.9C1100.8,1260.9 1101.6,1265.5 1102,1268Z"/>
<path d="M1091,1108C1090.8,1114 1089.5,1131.7 1089.5,1144C1089.5,1156.3 1090.2,1169.3 1091,1182C1091.8,1194.7 1093.1,1208.2 1094.5,1220C1095.9,1231.8 1098.3,1244.9 1099.6,1252.9C1100.8,1260.9 1101.6,1265.5 1102,1268L1132,1257C1131,1254.2 1128.2,1247 1126,1240C1123.8,1233 1120.6,1223.4 1118.5,1215C1116.4,1206.6 1114.8,1199.4 1113.5,1189.7C1112.2,1180 1111.2,1166.6 1111,1156.9C1110.8,1147.2 1111.4,1139.4 1112,1131.6C1112.6,1123.8 1114.3,1113.6 1114.8,1110" fill="none" stroke="#5677a8" stroke-width="1.3"/>
<path d="M1089,1097 L1117,1097 L1116,1112 L1090,1110 Z"/>
</g>
<g fill="#e59b91" stroke="#cb787b" stroke-width="1.2" stroke-linejoin="round">
<!-- descending aorta + iliacs --><path d="M1293,990C1292.7,1000 1291.5,1034.8 1291,1050C1290.5,1065.2 1290.2,1059 1290,1081C1289.8,1103 1289.8,1152.5 1290,1182C1290.2,1211.5 1291,1237 1291,1258C1291,1279 1290.5,1291.2 1290,1308C1289.5,1324.8 1288.8,1343.7 1287.8,1359C1286.8,1374.3 1285.2,1386.2 1284,1400C1282.8,1413.8 1282.3,1427.9 1280.8,1441.7C1279.3,1455.5 1277.3,1469.6 1275,1483C1272.7,1496.4 1270.1,1510.3 1266.9,1522C1263.7,1533.7 1259.5,1544.1 1255.8,1552.9C1252.1,1561.7 1249.2,1566.2 1244.6,1575C1240,1583.8 1234.5,1594.1 1228,1605.7C1221.5,1617.3 1214,1629.8 1205.7,1644.6C1197.4,1659.4 1187.3,1677.9 1178,1694.6C1168.7,1711.3 1158.3,1728.8 1150,1744.6C1141.7,1760.4 1135.4,1775.1 1128,1789.5C1120.6,1803.9 1112.2,1820.4 1105.7,1831C1099.2,1841.6 1094.1,1843.7 1089,1853C1083.9,1862.3 1080.2,1872.8 1075,1886.8C1069.8,1900.8 1064,1918.3 1058,1936.8C1052,1955.3 1044.5,1980 1039,1998C1033.5,2016 1027.3,2037.2 1025,2045L1033,2084C1034.9,2077.5 1040.3,2059.3 1044.5,2045C1048.7,2030.7 1052.9,2015.2 1058,1998C1063.1,1980.8 1069.8,1956.8 1075,1942C1080.2,1927.2 1085.4,1917 1089,1909C1092.6,1901 1095.5,1896.2 1096.8,1893.7C1097.1,1894.4 1099.1,1891.7 1098.7,1897.9C1098.3,1904.1 1095.5,1919 1094.5,1931C1093.5,1943 1093,1954.2 1093,1970C1093,1985.8 1094,2008.8 1094.5,2025.7C1095,2042.6 1095.8,2063.9 1096,2071.6L1119.6,2067C1119.8,2060.1 1120.8,2041.9 1121,2025.7C1121.2,2009.5 1120.8,1988.5 1121,1970C1121.2,1951.5 1121.3,1928.4 1122,1914.5C1122.7,1900.6 1123.1,1897 1125,1886.8C1126.9,1876.5 1129.3,1865.5 1133.5,1853C1137.7,1840.5 1144,1824.6 1150,1811.7C1156,1798.8 1162.6,1787.6 1169.6,1775.6C1176.6,1763.6 1183.5,1753 1191.8,1739.5C1200.1,1726 1210.4,1709.5 1219.6,1694.6C1228.8,1679.7 1238.7,1662.1 1247,1650C1255.3,1637.9 1263.8,1628.2 1269.6,1622C1275.4,1615.8 1279.9,1614.2 1282,1612.6C1283,1615.6 1286.3,1622.1 1287.7,1630.7C1289.1,1639.3 1289.6,1651.5 1290.5,1664C1291.4,1676.5 1292.3,1691.9 1293,1705.7C1293.7,1719.5 1294.7,1733.1 1294.7,1747C1294.7,1760.9 1294,1775 1293,1789C1292,1803 1291,1815.5 1289,1830.8C1287,1846.1 1283.6,1867 1280.8,1881C1278,1895 1274.7,1904.3 1272.4,1914.5C1270.1,1924.7 1269.2,1932.8 1266.9,1942C1264.6,1951.2 1260.3,1960.7 1258.5,1970C1256.7,1979.3 1256.5,1986.4 1255.8,1998C1255,2009.6 1254.5,2027.1 1254,2039.6C1253.5,2052.1 1253.2,2067.4 1253,2073L1275.8,2086.9C1276.2,2081.3 1277,2066 1278,2053.5C1279,2041 1280.2,2025.7 1282,2011.8C1283.8,1997.9 1286.4,1982.5 1289,1970C1291.6,1957.5 1294.6,1948.8 1297.4,1936.8C1300.2,1924.8 1303,1910 1305.8,1897.9C1308.6,1885.9 1311.5,1872.7 1314,1864.5C1316.5,1856.3 1319.8,1851.6 1321,1849C1322.4,1851.1 1326.4,1854.5 1329.4,1861.7C1332.4,1868.9 1335.6,1879.5 1339,1892C1342.4,1904.5 1346.3,1922.8 1350,1936.8C1353.7,1950.8 1357.2,1963.2 1361,1975.7C1364.8,1988.2 1369.9,2004.4 1372.5,2011.8C1375.1,2019.2 1376,2018.6 1376.7,2020L1402.5,2011.8C1401.2,2004.8 1397.9,1986.2 1394.7,1970C1391.5,1953.8 1387.3,1933 1383.6,1914.5C1379.9,1896 1376.7,1878.5 1372.5,1859C1368.3,1839.5 1363.2,1817.3 1358.6,1797.8C1354,1778.3 1348.5,1762 1344.7,1742C1340.9,1722 1338.8,1695.7 1336,1678C1333.2,1660.3 1330,1649.9 1328,1636C1326,1622.1 1324,1608.4 1323.8,1594.6C1323.6,1580.8 1325,1569.2 1326.6,1552.9C1328.2,1536.6 1331,1515.5 1333.6,1497C1336.1,1478.5 1339.6,1457.9 1341.9,1441.7C1344.2,1425.5 1345.8,1413.8 1347.5,1400C1349.2,1386.2 1350.6,1374.3 1352,1359C1353.4,1343.7 1355,1324.8 1356,1308C1357,1291.2 1357.5,1274.8 1357.8,1258C1358.1,1241.2 1357.7,1228.1 1357.8,1207C1357.9,1185.9 1358.1,1156.8 1358.6,1131.6C1359.1,1106.4 1360.3,1078.6 1361,1055.8C1361.7,1033 1362.7,1005.1 1363,995L1293,990Z"/>
<!-- umbilical arteries --><path d="M728,1606C730.4,1606.4 737.5,1607.6 742.5,1608.6C747.5,1609.6 753.2,1609.9 758.3,1612C763.4,1614.1 768.1,1617.2 773,1621C777.9,1624.8 782.5,1629.8 787.5,1634.7C792.5,1639.6 797.6,1645 803.3,1650.5C809,1656 815.4,1661.4 821.5,1667.5C827.6,1673.6 834,1680.3 839.7,1687C845.4,1693.7 850.8,1701.1 855.5,1707.6C860.2,1714.1 863.7,1720.1 867.7,1725.8C871.8,1731.5 875.3,1735.7 879.8,1741.6C884.2,1747.5 888.9,1753.9 894.4,1761C899.9,1768.1 906.6,1776.8 912.7,1784C918.8,1791.2 923.7,1796 930.9,1804C938.1,1812 948.8,1824.4 956,1832C963.2,1839.6 968.7,1844.3 974.4,1849.5C980.1,1854.7 983.4,1858.4 990,1862.9C996.6,1867.4 1005.9,1872.4 1014,1876.6C1022.1,1880.8 1030.4,1884.8 1038.5,1888C1046.6,1891.2 1055.8,1894 1062.8,1896C1069.8,1898 1075.5,1899 1080.6,1900C1085.7,1901 1089.2,1901.3 1093.5,1901.7C1097.8,1902.1 1104.2,1902.4 1106.4,1902.5L1103,1937C1100.3,1936.1 1093.7,1934.1 1087,1931.6C1080.3,1929.1 1070.9,1925.6 1062.8,1921.9C1054.7,1918.2 1046.6,1914 1038.5,1909.7C1030.4,1905.4 1022.1,1900.7 1014,1896C1005.9,1891.3 997.6,1886.6 990,1881.4C982.4,1876.2 975.1,1870.3 968.4,1865C961.7,1859.7 956.1,1854.9 950,1849.5C943.9,1844.1 937.9,1838.4 931.9,1832.5C925.9,1826.6 920,1820.7 913.7,1814C907.5,1807.3 900.7,1799.7 894.4,1792.5C888.1,1785.3 881.5,1777.5 876,1770.8C870.5,1764.1 866,1758.5 861.6,1752.6C857.2,1746.7 853.8,1741.4 849.5,1735.5C845.2,1729.6 840.7,1723.1 836,1717C831.3,1710.9 827,1705.4 821.5,1699C816,1692.6 809,1684.5 803.3,1678.4C797.6,1672.3 792.5,1667.7 787.5,1662.6C782.5,1657.5 777.9,1652.7 773,1648C768.1,1643.3 762.8,1638.1 758.3,1634.7C753.8,1631.3 750.2,1629.4 746,1627.4C741.8,1625.4 735,1623.3 732.8,1622.5L728,1606Z" stroke="none"/><path d="M745,1663.9C746.6,1665.7 751.1,1670.5 754.7,1674.8C758.3,1679 761.8,1683.4 766.8,1689.4C771.8,1695.4 778.9,1703.7 785,1711C791.1,1718.3 797.2,1725.9 803.3,1733C809.4,1740.1 815.4,1747.4 821.5,1753.8C827.6,1760.2 833.6,1765.6 839.7,1771.5C845.8,1777.4 852.8,1784.1 858,1789C863.2,1793.9 865.8,1795.7 871,1800.9C876.2,1806.1 883.3,1814 889.4,1820C895.5,1826 901.5,1831.5 907.6,1837C913.7,1842.5 919.7,1847.9 925.8,1853C931.9,1858.1 937.9,1863 944,1867.7C950.1,1872.4 956.2,1876.5 962.3,1881C968.4,1885.5 974.4,1890.7 980.5,1895C986.6,1899.3 993.1,1903.3 998.7,1907C1004.3,1910.7 1007.4,1913 1014,1917C1020.6,1921 1030.4,1926.8 1038.5,1931C1046.6,1935.2 1054.7,1938.8 1062.8,1942C1070.9,1945.2 1079,1948.1 1087,1950.5C1095,1952.9 1102.9,1955.2 1111,1956.6C1119.1,1958 1127.4,1958.6 1135.5,1959C1143.6,1959.4 1151.7,1959.5 1159.8,1959C1167.9,1958.5 1176,1957.5 1184,1955.8C1192,1954.1 1199.9,1952 1208,1949C1216.1,1946 1225.3,1942 1232.6,1938C1239.9,1934 1246.1,1929.6 1252,1925C1257.9,1920.4 1263.2,1915.2 1268,1910.6C1272.8,1906 1277.2,1901.5 1281,1897.6C1284.8,1893.7 1289.2,1888.8 1290.8,1887L1287.5,1934.8C1285.3,1935.6 1279.7,1937.5 1274.6,1939.7C1269.5,1941.9 1263.8,1944.5 1256.8,1947.7C1249.8,1950.9 1240.7,1955.6 1232.6,1959C1224.5,1962.4 1216.1,1965.6 1208,1968C1199.9,1970.4 1192,1972.1 1184,1973.6C1176,1975.1 1167.9,1976.2 1159.8,1976.9C1151.7,1977.6 1143.6,1977.9 1135.5,1977.7C1127.4,1977.5 1119.1,1977 1111,1976C1102.9,1975 1095,1973.8 1087,1972C1079,1970.2 1070.9,1968.2 1062.8,1965.5C1054.7,1962.8 1046.6,1959.5 1038.5,1955.8C1030.4,1952 1020.6,1947.5 1014,1943C1007.4,1938.5 1004.3,1933.2 998.7,1929C993.1,1924.8 986.6,1921.4 980.5,1917.5C974.4,1913.6 968.4,1909.5 962.3,1905.4C956.2,1901.3 950.1,1897.2 944,1893C937.9,1888.8 931.9,1884.3 925.8,1879.9C919.7,1875.5 913.7,1871.2 907.6,1866.5C901.5,1861.8 895.5,1857.1 889.4,1852C883.3,1846.9 877.1,1841.5 871,1836C864.9,1830.5 858.9,1824.8 852.9,1819C846.9,1813.2 840.8,1807 834.7,1800.9C828.6,1794.8 822.6,1788.9 816.5,1782.6C810.4,1776.3 804.2,1769.6 798,1763C791.8,1756.4 785.2,1749.6 779,1742.8C772.8,1736 766.1,1727.9 760.8,1722C755.5,1716.1 749.6,1710 747.4,1707.6L745,1663.9Z" stroke="none"/>
<path d="M728,1606C730.4,1606.4 737.5,1607.6 742.5,1608.6C747.5,1609.6 753.2,1609.9 758.3,1612C763.4,1614.1 768.1,1617.2 773,1621C777.9,1624.8 782.5,1629.8 787.5,1634.7C792.5,1639.6 797.6,1645 803.3,1650.5C809,1656 815.4,1661.4 821.5,1667.5C827.6,1673.6 834,1680.3 839.7,1687C845.4,1693.7 850.8,1701.1 855.5,1707.6C860.2,1714.1 863.7,1720.1 867.7,1725.8C871.8,1731.5 875.3,1735.7 879.8,1741.6C884.2,1747.5 888.9,1753.9 894.4,1761C899.9,1768.1 906.6,1776.8 912.7,1784C918.8,1791.2 923.7,1796 930.9,1804C938.1,1812 948.8,1824.4 956,1832C963.2,1839.6 968.7,1844.3 974.4,1849.5C980.1,1854.7 983.4,1858.4 990,1862.9C996.6,1867.4 1005.9,1872.4 1014,1876.6C1022.1,1880.8 1030.4,1884.8 1038.5,1888C1046.6,1891.2 1055.8,1894 1062.8,1896C1069.8,1898 1075.5,1899 1080.6,1900C1085.7,1901 1089.2,1901.3 1093.5,1901.7C1097.8,1902.1 1104.2,1902.4 1106.4,1902.5" fill="none"/>
<path d="M1103,1937C1100.3,1936.1 1093.7,1934.1 1087,1931.6C1080.3,1929.1 1070.9,1925.6 1062.8,1921.9C1054.7,1918.2 1046.6,1914 1038.5,1909.7C1030.4,1905.4 1022.1,1900.7 1014,1896C1005.9,1891.3 997.6,1886.6 990,1881.4C982.4,1876.2 975.1,1870.3 968.4,1865C961.7,1859.7 956.1,1854.9 950,1849.5C943.9,1844.1 937.9,1838.4 931.9,1832.5C925.9,1826.6 920,1820.7 913.7,1814C907.5,1807.3 900.7,1799.7 894.4,1792.5C888.1,1785.3 881.5,1777.5 876,1770.8C870.5,1764.1 866,1758.5 861.6,1752.6C857.2,1746.7 853.8,1741.4 849.5,1735.5C845.2,1729.6 840.7,1723.1 836,1717C831.3,1710.9 827,1705.4 821.5,1699C816,1692.6 809,1684.5 803.3,1678.4C797.6,1672.3 792.5,1667.7 787.5,1662.6C782.5,1657.5 777.9,1652.7 773,1648C768.1,1643.3 762.8,1638.1 758.3,1634.7C753.8,1631.3 750.2,1629.4 746,1627.4C741.8,1625.4 735,1623.3 732.8,1622.5" fill="none"/>
<path d="M745,1663.9C746.6,1665.7 751.1,1670.5 754.7,1674.8C758.3,1679 761.8,1683.4 766.8,1689.4C771.8,1695.4 778.9,1703.7 785,1711C791.1,1718.3 797.2,1725.9 803.3,1733C809.4,1740.1 815.4,1747.4 821.5,1753.8C827.6,1760.2 833.6,1765.6 839.7,1771.5C845.8,1777.4 852.8,1784.1 858,1789C863.2,1793.9 865.8,1795.7 871,1800.9C876.2,1806.1 883.3,1814 889.4,1820C895.5,1826 901.5,1831.5 907.6,1837C913.7,1842.5 919.7,1847.9 925.8,1853C931.9,1858.1 937.9,1863 944,1867.7C950.1,1872.4 956.2,1876.5 962.3,1881C968.4,1885.5 974.4,1890.7 980.5,1895C986.6,1899.3 993.1,1903.3 998.7,1907C1004.3,1910.7 1007.4,1913 1014,1917C1020.6,1921 1030.4,1926.8 1038.5,1931C1046.6,1935.2 1054.7,1938.8 1062.8,1942C1070.9,1945.2 1079,1948.1 1087,1950.5C1095,1952.9 1102.9,1955.2 1111,1956.6C1119.1,1958 1127.4,1958.6 1135.5,1959C1143.6,1959.4 1151.7,1959.5 1159.8,1959C1167.9,1958.5 1176,1957.5 1184,1955.8C1192,1954.1 1199.9,1952 1208,1949C1216.1,1946 1225.3,1942 1232.6,1938C1239.9,1934 1246.1,1929.6 1252,1925C1257.9,1920.4 1263.2,1915.2 1268,1910.6C1272.8,1906 1277.2,1901.5 1281,1897.6C1284.8,1893.7 1289.2,1888.8 1290.8,1887" fill="none"/>
<path d="M1287.5,1934.8C1285.3,1935.6 1279.7,1937.5 1274.6,1939.7C1269.5,1941.9 1263.8,1944.5 1256.8,1947.7C1249.8,1950.9 1240.7,1955.6 1232.6,1959C1224.5,1962.4 1216.1,1965.6 1208,1968C1199.9,1970.4 1192,1972.1 1184,1973.6C1176,1975.1 1167.9,1976.2 1159.8,1976.9C1151.7,1977.6 1143.6,1977.9 1135.5,1977.7C1127.4,1977.5 1119.1,1977 1111,1976C1102.9,1975 1095,1973.8 1087,1972C1079,1970.2 1070.9,1968.2 1062.8,1965.5C1054.7,1962.8 1046.6,1959.5 1038.5,1955.8C1030.4,1952 1020.6,1947.5 1014,1943C1007.4,1938.5 1004.3,1933.2 998.7,1929C993.1,1924.8 986.6,1921.4 980.5,1917.5C974.4,1913.6 968.4,1909.5 962.3,1905.4C956.2,1901.3 950.1,1897.2 944,1893C937.9,1888.8 931.9,1884.3 925.8,1879.9C919.7,1875.5 913.7,1871.2 907.6,1866.5C901.5,1861.8 895.5,1857.1 889.4,1852C883.3,1846.9 877.1,1841.5 871,1836C864.9,1830.5 858.9,1824.8 852.9,1819C846.9,1813.2 840.8,1807 834.7,1800.9C828.6,1794.8 822.6,1788.9 816.5,1782.6C810.4,1776.3 804.2,1769.6 798,1763C791.8,1756.4 785.2,1749.6 779,1742.8C772.8,1736 766.1,1727.9 760.8,1722C755.5,1716.1 749.6,1710 747.4,1707.6" fill="none"/>
</g>
<g id="heart" stroke-linejoin="round">
<path d="M1155,576.5C1148.8,577.6 1129.4,580.8 1118,583C1106.6,585.2 1096.4,587 1086.7,589.6C1077,592.2 1068,595.1 1060,598.8C1052,602.5 1044.7,606.8 1039,612C1033.3,617.2 1029.9,622.6 1026,630C1022.1,637.4 1018.8,646.9 1015.8,656.6C1012.8,666.3 1009.6,677.5 1007.9,688C1006.2,698.5 1005.6,709.2 1005.8,719.7C1006,730.2 1007,739.6 1009,751C1011,762.4 1014,775.7 1018,788C1022,800.3 1027.7,812.1 1033,824.8C1038.3,837.5 1043,852.6 1049.6,864C1056.2,875.4 1063.3,882.6 1072.4,893C1081.5,903.4 1092.7,916.5 1104.3,926.3C1115.9,936.1 1128.4,944.6 1142.3,952C1156.2,959.4 1171.6,965.9 1187.9,970.4C1204.2,974.9 1223.7,976.6 1240,979.3C1256.3,982 1270.4,984.5 1285.6,986.8C1300.8,989.1 1315.8,991.5 1331,993C1346.2,994.5 1367.6,995.7 1376.7,996C1385.8,996.3 1382.8,996.2 1385.8,995C1388.8,993.8 1393.5,990 1395,989C1395.8,989.5 1396.2,991.2 1399.5,992C1402.8,992.8 1409.6,994.3 1414.7,993.7C1419.8,993.1 1423.7,991.4 1430,988.4C1436.3,985.4 1445.1,981.3 1452.7,976C1460.3,970.7 1469.5,963 1475.5,956.5C1481.5,950 1486.2,941.8 1489,936.7C1491.8,931.6 1492,930 1492,926C1492,922 1490.8,918.2 1489,912.4C1487.2,906.6 1484.3,899.6 1481.5,891C1478.7,882.4 1475.2,870.9 1472.4,860.8C1469.6,850.7 1466.9,840.5 1464.8,830.4C1462.7,820.3 1461.2,810.1 1460,800C1458.8,789.9 1458.8,781.7 1457.5,770C1456.2,758.3 1454.2,745.4 1452,730C1449.8,714.6 1447.1,694.3 1444,677.6C1440.9,660.9 1437.5,644 1433.5,630C1429.5,616 1425.2,604.9 1420,593.6C1414.8,582.3 1408.5,571.3 1402,562C1395.5,552.7 1388.9,544.6 1381,538C1373.1,531.4 1363.5,526.3 1354.7,522.6C1345.9,518.9 1337,516.5 1328,516C1319,515.5 1309,517.9 1301,519.7C1293,521.5 1290.3,523 1280,527C1269.7,531 1252.7,538 1238.9,543.5C1225.1,549 1211.4,554.5 1197.4,560C1183.4,565.5 1162.1,573.8 1155,576.5Z" fill="#d6736c" stroke="#823535" stroke-width="2.7"/>
<path d="M1235,748.6C1235.2,745.1 1235.4,735.5 1236.5,727.6C1237.6,719.7 1239.8,709.8 1241.7,701C1243.6,692.2 1245.8,683.3 1248,675C1250.2,666.7 1253.1,658 1254.9,651C1256.7,644 1258.2,638.2 1258.8,633C1259.4,627.8 1259.9,624 1258.8,619.8C1257.7,615.6 1255.7,610.6 1252,608C1248.3,605.4 1242.2,604.4 1236.5,604C1230.8,603.6 1223.1,604.1 1218,605.4C1212.9,606.7 1208.8,608.7 1206,612C1203.2,615.3 1202,620.2 1201,625C1200,629.8 1201,636.6 1199.7,640.9C1198.4,645.2 1194.8,645.8 1193,651C1191.2,656.2 1190.5,663.2 1189,672C1187.5,680.8 1185.7,693 1184,704C1182.3,715 1179.2,729.2 1178.7,738C1178.2,746.8 1179.3,750.4 1181,756.5C1182.7,762.6 1185.9,768.8 1189,774.9C1192.1,781 1196.4,788.2 1199.7,793C1203,797.8 1207.4,802 1208.9,803.8C1206.4,801.2 1198.7,794.1 1194,788C1189.3,781.9 1184.5,774 1181,767C1177.5,760 1174.8,753.9 1173,746C1171.2,738.1 1170.6,729.4 1170,719.7C1169.4,710 1169.8,698.5 1169.5,688C1169.2,677.5 1169.1,665.8 1168,656.6C1166.9,647.4 1165.7,640.4 1163,633C1160.3,625.6 1156,617.7 1152,612C1148,606.3 1143.3,601.6 1139,598.8C1134.7,596 1133.8,595 1126,595C1118.2,595 1102,596.6 1092,598.8C1082,601 1073.9,603.6 1065.7,608C1057.5,612.4 1048.3,617.8 1043,625C1037.7,632.2 1036.8,641.3 1034,651C1031.2,660.7 1027.7,672.5 1026,683C1024.3,693.5 1023.3,704 1023.6,714C1023.9,724 1025,733.7 1027.6,743C1030.2,752.3 1034,762.1 1039,769.6C1044,777.1 1051.2,783.6 1057.8,788C1064.4,792.4 1073.1,793.6 1078.8,795.9C1084.5,798.2 1088.3,799.4 1092,802C1095.7,804.6 1098.7,808.3 1101,811.6C1103.3,814.9 1104,816.8 1105.8,822C1107.6,827.2 1108.5,835.5 1112,842.8C1115.5,850.1 1120.7,858.3 1127,866C1133.3,873.7 1141,881.4 1149.9,888.8C1158.8,896.2 1170.8,904.7 1180.3,910.6C1189.8,916.5 1199.4,921.3 1207,924C1214.6,926.7 1221.3,927.5 1226,927C1230.7,926.5 1233,923.5 1235,921C1237,918.5 1236.2,914.5 1238,912C1239.8,909.5 1243,907 1246,906.3C1249,905.5 1252.3,905.8 1256,907.5C1259.7,909.2 1263.4,913.9 1268,916.7C1272.6,919.6 1279,923.6 1283.8,924.6C1288.6,925.6 1293.9,924.8 1296.9,923C1299.9,921.2 1300.9,918.2 1302,914C1303.1,909.8 1304.3,904.5 1303.5,898C1302.7,891.5 1300.2,883 1296.9,874.7C1293.6,866.4 1288.2,856.8 1283.8,848C1279.4,839.2 1275,830.7 1270.6,822C1266.2,813.3 1261.9,804.6 1257.5,795.9C1253.1,787.2 1247.8,777.5 1244,769.6C1240.2,761.7 1236.5,752.1 1235,748.6Z" fill="#bababa" stroke="#823535" stroke-width="2.3"/>
<path d="M1268,610.4C1268.8,612.5 1271.2,618 1272.5,622.7C1273.8,627.4 1275,633 1275.8,638.4C1276.5,643.8 1277,649.4 1277,655C1277,660.6 1276.4,666.4 1275.8,672C1275.2,677.6 1274.6,682.2 1273.6,688.7C1272.6,695.2 1270.9,704.5 1270,711C1269.1,717.5 1268.2,724.7 1268,728C1267.8,731.3 1268.8,730.5 1269,731C1270.2,735.2 1273,747.9 1275.9,756.5C1278.8,765.1 1282.9,774 1286.4,782.7C1289.9,791.5 1293.4,802 1296.9,809C1300.4,816 1304.8,819.5 1307.4,824.8C1310,830 1310.8,835.5 1312.7,840.5C1314.6,845.5 1316.4,851.9 1319,855C1321.6,858.1 1325.1,856.2 1328.4,859C1331.7,861.8 1335.1,866.3 1339,872C1342.9,877.7 1347.8,887.5 1352,893C1356.2,898.5 1362,903 1364,905C1365.1,902.1 1368.8,895 1370.5,887.8C1372.2,880.6 1373.2,867.3 1374.4,861.6C1375.7,855.9 1377.4,855 1378,853.7C1379.3,856.3 1382.9,863 1386,869.5C1389.1,876 1393.9,887.1 1396.7,893C1399.5,898.9 1402,903 1403,905C1403.7,900 1405.4,885.5 1407,874.7C1408.6,864 1411.2,850.1 1412.5,840.5C1413.8,830.9 1414.6,820.8 1415,816.9C1415.8,817.8 1417.8,817.2 1420,822C1422.2,826.8 1425.8,839.5 1428,845.8C1430.2,852.1 1432.6,857.6 1433.5,860C1433.1,855.8 1432.1,845.7 1431,835C1429.9,824.3 1427.5,806.9 1427,796C1426.5,785.1 1428.4,778.1 1428,769.6C1427.6,761.1 1425.4,752.6 1424.7,744.7C1424,736.8 1423.6,728.5 1423.6,722C1423.6,715.5 1424.1,709.5 1424.7,705.5C1425.3,701.5 1426.5,700.5 1427,697.7C1427.5,694.9 1428.2,692.1 1428,688.7C1427.8,685.4 1426.5,681.4 1425.8,677.6C1425.1,673.8 1424.1,670.7 1423.6,666C1423,661.3 1423.1,655.1 1422.5,649.6C1421.9,644.1 1421.1,638.8 1420,632.8C1418.9,626.8 1417.8,620.2 1415.8,613.7C1413.8,607.2 1411.2,599.9 1408,593.6C1404.8,587.3 1401,581.3 1396.7,575.7C1392.4,570.1 1386.8,565.4 1382,560C1377.2,554.6 1374.5,548.3 1367.8,543.6C1361.1,538.9 1350.4,534 1341.6,531.8C1332.8,529.6 1322.9,529.5 1315,530.5C1307.1,531.5 1299.3,534.6 1294,538C1288.7,541.4 1285.2,547.3 1283,551C1280.8,554.7 1281,556.3 1280.9,560C1280.8,563.7 1281.7,569.3 1282.5,573.4C1283.3,577.5 1284.2,580.7 1285.9,584.6C1287.6,588.5 1290,592.9 1292.6,597C1295.2,601.1 1298.4,604.5 1301.6,609C1304.8,613.5 1308.5,618.9 1311.7,623.8C1314.9,628.7 1318,634.4 1320.6,638.4C1323.1,642.4 1324.6,645.2 1327,648C1329.4,650.8 1331.8,651.8 1335,655C1338.2,658.2 1342.5,663.2 1346,667.5C1349.5,671.8 1353.3,677.2 1356,681C1358.7,684.8 1360.9,687 1362,690C1363.1,693 1362.5,697.3 1362.6,698.8C1360.8,697.7 1355.6,695 1352,692C1348.4,689 1344.5,685.1 1340.8,681C1337.1,676.9 1333.3,671.7 1329.6,667.5C1325.9,663.3 1321.4,658.2 1318.4,656C1315.4,653.8 1312.8,654.3 1311.7,654C1311.3,652.8 1310.2,649.4 1309.4,647C1308.6,644.6 1307.1,640.8 1306.6,639.5C1304.8,638.2 1299.6,634.4 1296,631.6C1292.4,628.8 1288.5,625.5 1284.8,622.7C1281.1,619.9 1276.4,616.8 1273.6,614.8C1270.8,612.8 1268.9,611.1 1268,610.4Z" fill="#e59b91" stroke="#823535" stroke-width="2.3"/>
<path d="M1155,576.5C1159.8,576.6 1173.5,576.8 1184,577.3C1194.5,577.8 1209.2,578.5 1218,579.5C1226.8,580.5 1231.5,581.6 1237,583.5C1242.5,585.4 1246.8,587.7 1251,591C1255.2,594.3 1259.6,600.3 1262.4,603.5C1265.2,606.7 1267.1,609.2 1268,610.4" fill="none" stroke="#823535" stroke-width="2.3"/>
<g fill="#ffffff">
<path d="M1134.8,634.8C1135.8,633.5 1138.1,632.6 1140,633C1141.9,633.4 1144,633.5 1146.3,637C1148.6,640.5 1151.9,648 1154,654C1156.1,660 1158,666.7 1159,673C1160,679.3 1160.1,685.6 1159.7,692C1159.3,698.4 1158.1,705.1 1156.5,711.6C1154.9,718.1 1152.6,724.8 1150,730.8C1147.4,736.8 1144.2,742.5 1141,747.4C1137.8,752.3 1135.2,757.1 1131,760C1126.8,762.9 1120.1,764.2 1115.6,764.7C1111.1,765.2 1106.3,763.7 1104,762.7C1101.7,761.8 1101.2,761.1 1102,759C1102.8,756.9 1105.7,753.2 1109,750C1112.3,746.8 1117.9,744 1122,739.7C1126.1,735.4 1130.5,729.8 1133.5,724C1136.5,718.2 1138.5,711.3 1140,705C1141.5,698.7 1142.3,692.4 1142.5,686C1142.7,679.6 1141.9,672.8 1141,666.8C1140.1,660.8 1138.5,654.3 1137.3,650C1136.1,645.7 1134.4,643.5 1134,641C1133.6,638.5 1133.8,636.1 1134.8,634.8Z"/>
<path d="M1147.6,590C1150.2,589.5 1152.6,587.5 1163,587C1173.4,586.5 1198.1,585.7 1210,587C1221.9,588.3 1230.5,593.7 1234.6,595C1231.8,595.4 1223.4,596.4 1218,597.5C1212.6,598.6 1206.4,599.6 1202,601.5C1197.6,603.4 1194.4,606.6 1191.8,609C1189.2,611.4 1188.5,614 1186.5,616C1184.5,618 1180.8,619.9 1179.6,620.7C1178.5,619.2 1175.8,615.2 1173,612C1170.2,608.8 1167.2,605.2 1163,601.5C1158.8,597.8 1150.2,591.9 1147.6,590Z"/>
<path d="M1195.7,878.6C1196.2,876.3 1199.1,874.8 1201,876C1202.9,877.2 1205,881.2 1207,886C1209,890.8 1211.6,900.3 1212.8,905C1214,909.7 1214.8,912.2 1214,914C1213.2,915.8 1209.8,917.5 1208,916C1206.2,914.5 1204.7,909.3 1203,905C1201.3,900.7 1199.2,894.4 1198,890C1196.8,885.6 1195.2,880.9 1195.7,878.6Z"/>
<path d="M1262.7,869.5C1263.2,867.3 1266.1,865.9 1268,867C1269.9,868.1 1272,871.2 1274,876C1276,880.8 1278.6,891.2 1279.8,896C1281,900.8 1281.8,903.2 1281,905C1280.2,906.8 1276.8,908.5 1275,907C1273.2,905.5 1271.7,900.5 1270,896C1268.3,891.5 1266.2,884.4 1265,880C1263.8,875.6 1262.2,871.7 1262.7,869.5Z"/>
<path d="M1278.5,534.5C1275.9,535.1 1266.6,535.6 1262.7,538C1258.8,540.4 1255.6,545 1254.9,549C1254.2,553 1256.2,558.3 1258.8,562C1261.4,565.7 1268.6,569.5 1270.6,571C1269.9,568.6 1266.7,561.4 1266.7,556.8C1266.7,552.2 1268.6,547.3 1270.6,543.6C1272.6,539.9 1277.2,536 1278.5,534.5Z"/>
<path d="M1441,738C1440.4,743.3 1438,757.8 1437.5,769.6C1437,781.4 1437.1,795.9 1438,809C1438.9,822.1 1440.9,837 1442.7,848C1444.5,859 1446.6,867.2 1449,874.7C1451.4,882.2 1455.7,890 1457,893L1470,891.8C1469.2,886.8 1467.2,873.2 1465,861.6C1462.8,850 1459.7,835.1 1457,822C1454.3,808.9 1451.2,794.5 1449,782.7C1446.8,770.9 1445.3,758.5 1444,751C1442.7,743.5 1441.5,740.2 1441,738Z"/>
<path d="M1319,939.8C1319.5,937.2 1320.5,934.3 1325,932C1329.5,929.7 1335.1,928.2 1346.3,926C1357.5,923.8 1376.8,921.8 1392,918.5C1407.2,915.2 1426.6,909.2 1437.5,906.3C1448.4,903.4 1451.9,901.5 1457.2,901C1462.5,900.5 1467,901.6 1469.4,903.3C1471.8,905 1472.5,907.2 1471.7,911C1470.9,914.8 1469.2,921 1464.8,926C1460.3,931 1453.3,936.5 1445,941.3C1436.7,946.1 1424.8,951.7 1414.7,955C1404.6,958.3 1394.4,959.9 1384.3,961C1374.2,962.1 1362.3,962.5 1354,961.8C1345.7,961 1339.5,958.9 1334.2,956.5C1328.9,954.1 1324.5,950.1 1322,947.3C1319.5,944.5 1318.5,942.3 1319,939.8Z"/>
<path d="M1413.5,658.5C1413.1,659.1 1413.8,660.8 1411,662C1408.2,663.2 1401.9,664.5 1396.7,666C1391.5,667.5 1385,669.9 1380,670.8C1375,671.7 1370,672.2 1366.5,671.4C1363,670.6 1360.6,668.6 1358.7,666C1356.8,663.4 1355.2,659.5 1355,656C1354.8,652.5 1356.3,647.9 1357.6,645C1358.9,642.1 1360.6,640 1363,638.4C1365.4,636.8 1369,635.6 1372,635.6C1375,635.6 1378,636.7 1381,638.4C1384,640.1 1386.5,643.6 1390,646C1393.5,648.4 1398.1,650.9 1402,653C1405.9,655.1 1411.6,657.6 1413.5,658.5Z"/>
<path d="M1358,683C1360.7,683 1368.5,683.2 1374,683C1379.5,682.8 1386.3,682.7 1391,682C1395.7,681.3 1398.1,680.1 1402,678.7C1405.9,677.3 1412.5,674.5 1414.6,673.6C1412.5,675 1406.8,679.7 1402,682C1397.2,684.3 1391,686.5 1385.5,687.6C1380,688.7 1372.6,688.7 1368.7,688.7C1364.8,688.7 1363.8,688.6 1362,687.6C1360.2,686.6 1358.7,683.8 1358,683Z"/>
<path d="M1137.3,789.6C1139,789 1143.5,787.1 1147.6,785.8C1151.7,784.5 1157.6,783.1 1161.7,782C1165.8,780.9 1169,780.7 1172,779.4C1175,778.1 1178.3,774.9 1179.6,774C1179.2,775.1 1179.1,778.7 1177,780.7C1174.9,782.7 1171.1,784.3 1166.8,785.8C1162.5,787.3 1156.3,789 1151.4,789.6C1146.5,790.2 1139.7,789.6 1137.3,789.6Z"/>
</g>
<g fill="#efe9d6">
<path d="M1362.6,690C1364.4,688.5 1370.2,690.2 1374,690C1377.8,689.8 1383,689.3 1385.5,688.7C1388,688.1 1389.4,685.8 1389,686.5C1388.6,687.2 1385.5,691.3 1383,693C1380.5,694.7 1377.3,695.6 1374,696.6C1370.7,697.6 1364.9,699.9 1363,698.8C1361.1,697.7 1360.8,691.5 1362.6,690Z"/>
<path d="M1392,675C1392.4,675.8 1393.3,678.3 1394.5,679.8C1395.7,681.3 1396.8,683.5 1399,684C1401.2,684.5 1405.4,683.9 1408,683C1410.6,682.1 1412,679.4 1414.6,678.7C1417.2,678 1421.2,678.3 1423.6,679C1426,679.7 1428.1,681.4 1429,683C1429.9,684.6 1430.7,687.5 1429,688.7C1427.3,689.9 1422.5,689.8 1419,690C1415.5,690.2 1411.2,690.6 1408,690C1404.8,689.4 1402.7,689 1400,686.5C1397.3,684 1393.3,676.9 1392,675Z"/>
<path d="M1287,655C1287.9,656 1290,659.8 1292.6,660.8C1295.2,661.8 1299.9,661.6 1302.7,660.8C1305.5,660 1306.8,656.8 1309.4,656C1312,655.2 1316.1,654.8 1318.4,656C1320.7,657.2 1323.4,661.1 1323.4,663C1323.4,664.9 1321.1,666.5 1318.4,667.5C1315.7,668.5 1310.7,669.2 1307,669C1303.3,668.8 1299,667.4 1296,666C1293,664.6 1290.5,662.6 1289,660.8C1287.5,659 1287.3,656 1287,655Z"/>
<path d="M1277,682C1277.2,680.3 1277.1,675.2 1278,672C1278.9,668.8 1281.4,665.2 1282.5,663C1283.6,660.8 1284.4,657.4 1284.8,658.5C1285.2,659.6 1285.4,666.5 1284.8,669.7C1284.2,672.9 1282.7,675.6 1281.4,677.6C1280.1,679.6 1277.7,681.3 1277,682Z"/>
<path d="M1227,628.4C1227.1,629 1228.3,629.9 1227.6,632C1226.9,634.1 1225.5,638.7 1223,641C1220.5,643.3 1216.5,644.7 1212.8,646C1209.1,647.3 1203.9,648.6 1201,648.9C1198.1,649.2 1196.6,648.9 1195.6,647.6C1194.6,646.3 1194.5,642.8 1195,641C1195.5,639.2 1197.1,637.8 1198.8,637C1200.5,636.2 1202.7,635.7 1205,636C1207.3,636.3 1210.2,638.8 1212.8,638.6C1215.4,638.4 1218.1,636.5 1220.5,634.8C1222.9,633.1 1225.9,629.5 1227,628.4Z"/>
<path d="M1230,628.4C1230.5,630.1 1231.4,635.8 1233,638.6C1234.6,641.4 1237.3,643.9 1239.7,645C1242.1,646.1 1245.3,645.7 1247.4,645C1249.5,644.3 1251.1,641 1252.5,641C1253.9,641 1255.2,643.3 1256,645C1256.8,646.7 1257.8,649.5 1257.6,651.4C1257.4,653.3 1256.7,656.1 1255,656.5C1253.3,656.9 1250.2,655.1 1247.4,654C1244.6,652.9 1241,652.2 1238.4,650C1235.8,647.8 1233.4,644.6 1232,641C1230.6,637.4 1230.3,630.5 1230,628.4Z"/>
<path d="M1134.8,773C1136.9,773.8 1143.8,777.8 1147.6,778C1151.4,778.2 1154.8,776.5 1157.8,774C1160.8,771.5 1163.1,765 1165.5,762.7C1167.9,760.4 1169.9,759.4 1172,760C1174.1,760.6 1176.7,764.4 1178,766.6C1179.3,768.8 1180.6,770.9 1179.6,773C1178.6,775.1 1175.4,777.9 1172,779.4C1168.6,780.9 1163.3,781.8 1159,782C1154.7,782.2 1150,782.2 1146,780.7C1142,779.2 1136.7,774.3 1134.8,773Z"/>
<path d="M1134.8,774C1135,775.8 1136.2,781 1136,784.5C1135.8,788 1134.8,791.3 1133.5,794.7C1132.2,798.1 1131,802 1128.4,805C1125.8,808 1121,810.3 1118,812.6C1115,814.9 1111.8,817.9 1110.5,819C1109.7,817.1 1105.7,810.7 1105.4,807.5C1105.2,804.3 1106.7,801.5 1109,799.8C1111.3,798.1 1116.6,799 1119.4,797.3C1122.2,795.6 1124.1,792.1 1125.8,789.6C1127.5,787.1 1128.2,784.6 1129.7,782C1131.2,779.4 1134,775.3 1134.8,774Z"/>
</g>
<path d="M1227,747.4C1226.3,744.6 1224.1,736.8 1223,730.8C1221.9,724.8 1221.2,718.1 1220.5,711.6C1219.8,705.1 1218.8,698.4 1219,692C1219.2,685.6 1220.3,679.3 1221.8,673C1223.3,666.7 1226.3,659.3 1228,654C1229.7,648.7 1230.9,644.7 1232,641C1233.1,637.3 1233.8,634.1 1234.6,632C1235.4,629.9 1235.8,628.8 1237,628.4C1238.2,628 1240.6,628.4 1242,629.7C1243.4,631 1244.8,633.7 1245.5,636C1246.2,638.3 1246.3,640.7 1246,643.7C1245.7,646.7 1244.5,649.1 1243.5,654C1242.5,658.9 1241.2,666.7 1239.7,673C1238.2,679.3 1236.1,685.6 1234.6,692C1233.1,698.4 1231.9,705.1 1230.8,711.6C1229.7,718.1 1228.6,724.8 1228,730.8C1227.4,736.8 1227.2,744.6 1227,747.4Z" fill="#ffffff"/>
</g>
<g id="catheters" fill="none" stroke-linecap="round">
<path d="M1072,893C1071.8,900.8 1072,925.5 1071,940C1070,954.5 1067.5,969.8 1065.7,979.8C1063.9,989.8 1061.2,992.8 1060,1000C1058.8,1007.2 1058.2,1015.8 1058.7,1023C1059.2,1030.2 1060.5,1036.7 1063,1043C1065.5,1049.3 1068.3,1054.9 1074,1060.8C1079.7,1066.7 1089,1072.2 1097,1078.5C1105,1084.8 1114.4,1092 1122,1098.7C1129.6,1105.5 1136.5,1112.3 1142.5,1119C1148.5,1125.7 1153.1,1131.8 1157.7,1139C1162.3,1146.2 1166.3,1153.5 1170,1162C1173.7,1170.5 1176.6,1180.5 1180,1189.7C1183.4,1199 1187.3,1208.3 1190.5,1217.5C1193.7,1226.7 1196.8,1236.2 1199,1245C1201.2,1253.8 1202.9,1263 1204,1270.6C1205.1,1278.2 1206,1283.2 1205.7,1290.8C1205.4,1298.4 1204.1,1307.6 1202,1316C1199.9,1324.4 1197,1332.2 1193,1341C1189,1349.8 1183,1361.4 1178,1369C1173,1376.6 1169.1,1381.8 1162.8,1386.8C1156.5,1391.8 1148,1394.8 1140,1399C1132,1403.2 1125.3,1406.8 1114.8,1412C1104.3,1417.2 1089,1424.8 1076.8,1430.5C1064.6,1436.2 1052.8,1441.7 1041.5,1446.5C1030.2,1451.3 1022.3,1454.5 1008.7,1459.3C995.1,1464 984.1,1467.1 960,1475C935.9,1482.9 890,1497.8 863.8,1506.8C837.6,1515.8 821.6,1522 803,1529C784.4,1536 767,1542.6 752,1549C737,1555.4 719.5,1564.5 713,1567.6" stroke="#1a1a1a" stroke-width="2"/>
<path d="M1336.6,995C1337.1,1003 1338.9,1024.5 1339.6,1043C1340.3,1061.5 1340.9,1084.9 1340.9,1106C1340.9,1127.1 1340.4,1148.4 1339.6,1169.5C1338.8,1190.6 1337.5,1211.5 1335.8,1232.6C1334.1,1253.6 1331.8,1276.9 1329.5,1295.8C1327.2,1314.7 1324.6,1328.6 1322,1346C1319.4,1363.4 1316.7,1381.7 1314,1400C1311.3,1418.3 1308.3,1437.1 1305.8,1455.6C1303.3,1474.1 1300.2,1494.8 1298.8,1511C1297.4,1527.2 1296.9,1539 1297.4,1552.9C1297.9,1566.8 1300,1578.4 1301.6,1594.6C1303.2,1610.8 1305.2,1631.5 1307,1650C1308.8,1668.5 1311,1687.2 1312.7,1705.7C1314.4,1724.2 1316.4,1746.2 1316.9,1761C1317.5,1775.8 1317.2,1783.2 1316,1794.7C1314.8,1806.2 1311.5,1821.5 1310,1829.7C1308.5,1837.9 1308.6,1837.5 1307,1844C1305.4,1850.5 1302.7,1860.4 1300.5,1868.5C1298.3,1876.6 1295.9,1885.8 1294,1892.8C1292.1,1899.8 1290.3,1906.1 1289,1910.6C1287.7,1915.1 1287.3,1917.3 1286,1920C1284.7,1922.7 1283.2,1924.8 1281,1926.7C1278.8,1928.6 1277,1929.7 1273,1931.6C1269,1933.5 1263.5,1935 1256.8,1938C1250.1,1941 1240.7,1946.1 1232.6,1949.4C1224.5,1952.7 1216.1,1955.6 1208,1958C1199.9,1960.4 1192,1962.5 1184,1964C1176,1965.5 1167.9,1966.3 1159.8,1967C1151.7,1967.7 1143.6,1968.1 1135.5,1968C1127.4,1967.9 1119.1,1967.4 1111,1966.3C1102.9,1965.2 1095,1963.7 1087,1961.5C1079,1959.3 1070.9,1956.2 1062.8,1953C1054.7,1949.8 1046.6,1946.8 1038.5,1942.5C1030.4,1938.2 1020.6,1931 1014,1927C1007.4,1923 1005.3,1922.7 998.7,1918.5C992.1,1914.3 982.5,1907.1 974.4,1901.7C966.3,1896.3 958.1,1891.5 950,1886C941.9,1880.5 933.9,1875.1 925.8,1869C917.7,1862.9 909.6,1856.4 901.5,1849.5C893.4,1842.6 885.1,1835.3 877,1827.6C868.9,1819.8 861,1811.2 852.9,1803C844.8,1794.8 835.9,1785.5 828.6,1778.5C821.4,1771.5 815.7,1767.6 809.4,1761C803.1,1754.4 797.1,1746.3 791,1739C784.9,1731.7 778.5,1723.5 773,1717C767.5,1710.5 762.2,1704.5 758.3,1700C754.4,1695.5 751.2,1691.7 749.8,1690" stroke="#a3100f" stroke-width="2.2"/>
</g>
<g id="disc" stroke="#868686" stroke-width="2.4" stroke-linejoin="round" stroke-linecap="round">
<path d="M603.5,1557.5C603.8,1550 605.7,1545.8 608.6,1541C611.5,1536.2 616.1,1531.8 620.8,1529C625.5,1526.2 631.6,1524.5 637,1524C642.4,1523.5 646.9,1524.2 653,1526C659.1,1527.8 667,1531.2 673.4,1535C679.8,1538.8 685.9,1543.6 691.6,1549C697.3,1554.4 702.7,1560.8 707.8,1567.6C712.9,1574.4 718,1581.5 722,1589.9C726,1598.3 729,1607.5 732,1618C735,1628.5 737.8,1641.9 740,1652.7C742.2,1663.5 744,1674.6 745,1683C746,1691.4 746.5,1697.2 746,1703C745.5,1708.8 744.3,1713.4 742,1717.5C739.7,1721.6 736,1724.2 732,1727.6C728,1731 721.7,1734.5 718,1737.7C714.3,1740.9 712.6,1744.9 709.9,1746.8C707.2,1748.7 705.2,1749.4 701.8,1748.9C698.4,1748.4 694.3,1747.3 689.6,1743.8C684.9,1740.2 679.5,1734.7 673.4,1727.6C667.3,1720.5 659.1,1710.1 653,1701C646.9,1691.9 642,1682.8 637,1673C632,1663.2 626.8,1652.7 622.8,1642.5C618.8,1632.3 615.4,1621.5 612.7,1612C610,1602.5 608.1,1594.9 606.6,1585.8C605.1,1576.7 603.2,1565 603.5,1557.5Z" fill="#dcdcdc"/>
<path d="M603.5,1557.5C603.5,1552 604.1,1555.1 606.6,1553C609.1,1550.9 613.6,1545.7 618.7,1545C623.8,1544.3 631,1545.9 637,1549C643,1552.1 648.9,1557.4 655,1563.5C661.1,1569.6 667.6,1577.4 673.4,1585.8C679.2,1594.2 684.9,1603.9 689.6,1614C694.3,1624.1 698.2,1635.1 701.8,1646.6C705.3,1658.1 708.7,1671.9 710.9,1683C713.1,1694.1 714.5,1704.2 715,1713C715.5,1721.8 714.8,1730.1 713.9,1735.7C713,1741.3 711.9,1744.6 709.9,1746.8C707.9,1749 705.2,1749.4 701.8,1748.9C698.4,1748.4 694.3,1747.3 689.6,1743.8C684.9,1740.2 679.5,1734.7 673.4,1727.6C667.3,1720.5 659.1,1710.1 653,1701C646.9,1691.9 642,1682.8 637,1673C632,1663.2 626.8,1652.7 622.8,1642.5C618.8,1632.3 615.4,1621.5 612.7,1612C610,1602.5 608.1,1594.9 606.6,1585.8C605.1,1576.7 603.5,1563 603.5,1557.5Z" fill="#cdcdcd"/>
<g fill="none" stroke="#b4b4b4" stroke-width="1.6">
<path d="M618,1539 L634,1541 C640,1540 640,1534 634,1531"/>
<path d="M641,1547 L663,1562 C670,1564 669,1557 660,1546"/>
<path d="M676,1573 L686,1595 C690,1600 689,1590 685,1580"/>
<path d="M691,1605 L700,1625 C704,1630 704,1620 701,1610"/>
<path d="M699,1634 L707,1656 C711,1661 710,1650 708,1640"/>
<path d="M709,1666 L718,1693 C721,1697 720,1686 718,1676"/>
<path d="M719,1702 L723,1722 C724,1722 726,1712 727,1704"/>
</g>
<path d="M354,1668C365,1668 397.3,1668.1 420,1668C442.7,1667.9 471.7,1668.2 490,1667.5C508.3,1666.8 517.5,1665.8 530,1664C542.5,1662.2 553.3,1659.3 565,1657C576.7,1654.7 590,1652 600,1650C610,1648 616.7,1647.4 625,1645C633.3,1642.6 645.8,1637.1 650,1635.5" fill="none" stroke-width="4"/>
<path d="M629.9,1625C631.4,1624 636.1,1619.8 639,1619C641.9,1618.2 645.2,1618.2 647,1620C648.8,1621.8 648.7,1625.6 650,1630C651.3,1634.4 653.5,1641.8 655,1646.6C656.5,1651.4 659,1656 659,1658.7C659,1661.4 657.3,1662.3 655,1662.8C652.7,1663.3 646.7,1662 645,1661.8" fill="none"/>
</g>
<!-- ============ BOXES ============ -->
<rect x="799" y="690.5" width="169" height="99" fill="#363636"/>
<rect x="1472.5" y="737" width="168.5" height="99" fill="#d1787d"/>
<rect x="1384.5" y="1478" width="169" height="98.5" fill="#d1787d"/>
<!-- ============ LEADER LINES ============ -->
<g class="lead">
<line x1="519" y1="516.7" x2="1120" y2="516.7"/>
<line x1="519" y1="940" x2="1083.5" y2="940"/>
<line x1="519" y1="1207.5" x2="1110" y2="1207.5"/>
<line x1="609" y1="1451" x2="1053.5" y2="1451"/>
<line x1="441" y1="1787" x2="829" y2="1787"/>
<line x1="1255" y1="457.4" x2="1855.5" y2="457.4"/>
<line x1="1143" y1="1098.6" x2="1588" y2="1098.6"/>
<line x1="1353.5" y1="1210" x2="1508" y2="1210"/>
</g>
<!-- ============ TEXT ============ -->
<g id="labels">
<text class="lbl" x="1" y="564" textLength="519" lengthAdjust="spacingAndGlyphs">Vena cava superior</text>
<text class="lbl" x="389" y="956" textLength="130" lengthAdjust="spacingAndGlyphs">Vena</text>
<text class="lbl" x="179" y="1025" textLength="359" lengthAdjust="spacingAndGlyphs">Cava Inferior</text>
<text class="lbl" x="198" y="1288.5" textLength="315" lengthAdjust="spacingAndGlyphs">Vena Portal</text>
<text class="lbl" x="129" y="1528.5" textLength="474" lengthAdjust="spacingAndGlyphs">Venas umbilicales</text>
<text class="lbl" x="238.5" y="1847" textLength="225.5" lengthAdjust="spacingAndGlyphs">Arterias</text>
<text class="lbl" x="206" y="1913.5" textLength="277.5" lengthAdjust="spacingAndGlyphs">umbilicales</text>
<text class="lbl" x="1865" y="487" textLength="276.5" lengthAdjust="spacingAndGlyphs">Conducto</text>
<text class="lbl" x="1865" y="554.5" textLength="196" lengthAdjust="spacingAndGlyphs">arterial</text>
<text class="lbl" x="1595" y="1121" textLength="494" lengthAdjust="spacingAndGlyphs">Conducto venoso</text>
<text class="lbl" x="1528" y="1240" textLength="463" lengthAdjust="spacingAndGlyphs">Aorta abdominal</text>
<text class="bold" fill="#333333" x="191" y="758" textLength="586" lengthAdjust="spacingAndGlyphs">CUV Posicionamiento</text>
<text class="bold" fill="#d1787d" x="1661.7" y="756.6" textLength="129" lengthAdjust="spacingAndGlyphs">CUA</text>
<text class="bold" fill="#d1787d" x="1661.7" y="813.5" textLength="555" lengthAdjust="spacingAndGlyphs">Posicionamiento alto</text>
<text class="bold" fill="#d1787d" x="1601" y="1497.4" textLength="130.5" lengthAdjust="spacingAndGlyphs">CUA</text>
<text class="bold" fill="#d1787d" x="1602" y="1554" textLength="538" lengthAdjust="spacingAndGlyphs">Bajo posicinamiento</text>
<text class="boxt" x="812" y="754" textLength="139" lengthAdjust="spacingAndGlyphs">T9-T10</text>
<text class="boxt" x="1495" y="801" textLength="110.5" lengthAdjust="spacingAndGlyphs">T6-T9</text>
<text class="boxt" x="1406" y="1540.7" textLength="118" lengthAdjust="spacingAndGlyphs">L3 -L5</text>
</g>

</svg>
</body>
</html>
